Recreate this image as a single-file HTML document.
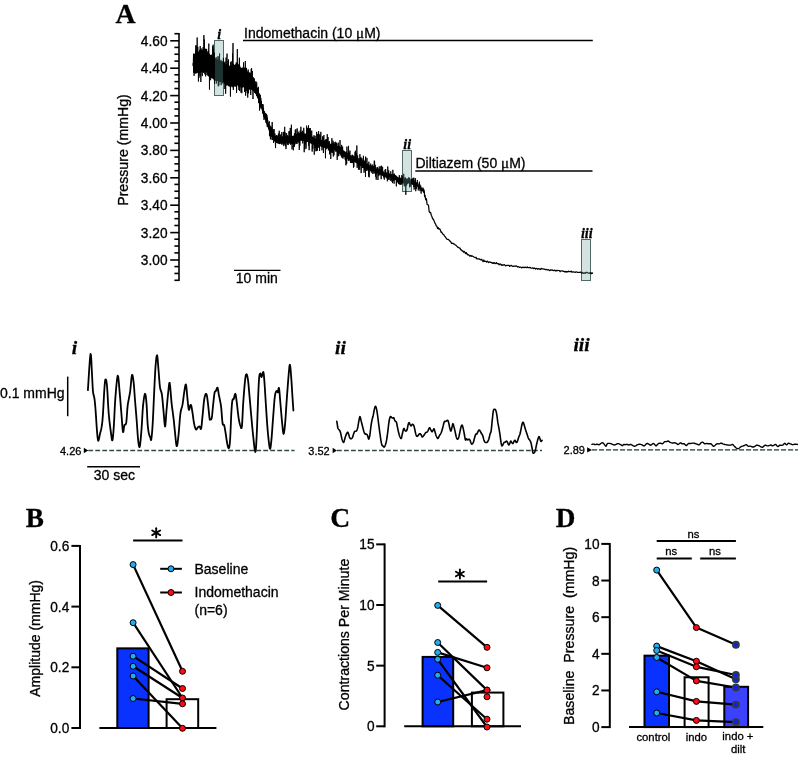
<!DOCTYPE html>
<html><head><meta charset="utf-8"><title>Figure</title>
<style>html,body{margin:0;padding:0;background:#fff;} body{width:798px;height:757px;overflow:hidden;font-family:"Liberation Sans",sans-serif;} svg{display:block;will-change:transform;} text{stroke:#000;stroke-width:0.3px;paint-order:stroke;} text.nb{stroke:none;}</style>
</head><body>
<svg width="798" height="757" viewBox="0 0 798 757">
<rect width="798" height="757" fill="#fff"/>
<text x="115.6" y="22.8" font-family="Liberation Serif" font-size="27.8" font-weight="bold" font-style="normal" text-anchor="start" fill="#000">A</text>
<line x1="179.00" y1="33.00" x2="179.00" y2="281.10" stroke="#000" stroke-width="1.6"/>
<line x1="170.20" y1="40.80" x2="179.00" y2="40.80" stroke="#000" stroke-width="1.6"/>
<text transform="translate(167.5 45.699999999999996) scale(1 1.1)" font-family="Liberation Sans" font-size="13.7" text-anchor="end" fill="#000">4.60</text>
<line x1="170.20" y1="68.20" x2="179.00" y2="68.20" stroke="#000" stroke-width="1.6"/>
<text transform="translate(167.5 73.1) scale(1 1.1)" font-family="Liberation Sans" font-size="13.7" text-anchor="end" fill="#000">4.40</text>
<line x1="170.20" y1="95.60" x2="179.00" y2="95.60" stroke="#000" stroke-width="1.6"/>
<text transform="translate(167.5 100.5) scale(1 1.1)" font-family="Liberation Sans" font-size="13.7" text-anchor="end" fill="#000">4.20</text>
<line x1="170.20" y1="123.00" x2="179.00" y2="123.00" stroke="#000" stroke-width="1.6"/>
<text transform="translate(167.5 127.89999999999999) scale(1 1.1)" font-family="Liberation Sans" font-size="13.7" text-anchor="end" fill="#000">4.00</text>
<line x1="170.20" y1="150.40" x2="179.00" y2="150.40" stroke="#000" stroke-width="1.6"/>
<text transform="translate(167.5 155.29999999999998) scale(1 1.1)" font-family="Liberation Sans" font-size="13.7" text-anchor="end" fill="#000">3.80</text>
<line x1="170.20" y1="177.80" x2="179.00" y2="177.80" stroke="#000" stroke-width="1.6"/>
<text transform="translate(167.5 182.70000000000002) scale(1 1.1)" font-family="Liberation Sans" font-size="13.7" text-anchor="end" fill="#000">3.60</text>
<line x1="170.20" y1="205.20" x2="179.00" y2="205.20" stroke="#000" stroke-width="1.6"/>
<text transform="translate(167.5 210.1) scale(1 1.1)" font-family="Liberation Sans" font-size="13.7" text-anchor="end" fill="#000">3.40</text>
<line x1="170.20" y1="232.60" x2="179.00" y2="232.60" stroke="#000" stroke-width="1.6"/>
<text transform="translate(167.5 237.49999999999997) scale(1 1.1)" font-family="Liberation Sans" font-size="13.7" text-anchor="end" fill="#000">3.20</text>
<line x1="170.20" y1="260.00" x2="179.00" y2="260.00" stroke="#000" stroke-width="1.6"/>
<text transform="translate(167.5 264.9) scale(1 1.1)" font-family="Liberation Sans" font-size="13.7" text-anchor="end" fill="#000">3.00</text>
<line x1="174.40" y1="33.70" x2="179.00" y2="33.70" stroke="#000" stroke-width="1.6"/>
<line x1="174.40" y1="47.40" x2="179.00" y2="47.40" stroke="#000" stroke-width="1.6"/>
<line x1="174.40" y1="54.25" x2="179.00" y2="54.25" stroke="#000" stroke-width="1.6"/>
<line x1="174.40" y1="61.10" x2="179.00" y2="61.10" stroke="#000" stroke-width="1.6"/>
<line x1="174.40" y1="74.80" x2="179.00" y2="74.80" stroke="#000" stroke-width="1.6"/>
<line x1="174.40" y1="81.65" x2="179.00" y2="81.65" stroke="#000" stroke-width="1.6"/>
<line x1="174.40" y1="88.50" x2="179.00" y2="88.50" stroke="#000" stroke-width="1.6"/>
<line x1="174.40" y1="102.20" x2="179.00" y2="102.20" stroke="#000" stroke-width="1.6"/>
<line x1="174.40" y1="109.05" x2="179.00" y2="109.05" stroke="#000" stroke-width="1.6"/>
<line x1="174.40" y1="115.90" x2="179.00" y2="115.90" stroke="#000" stroke-width="1.6"/>
<line x1="174.40" y1="129.60" x2="179.00" y2="129.60" stroke="#000" stroke-width="1.6"/>
<line x1="174.40" y1="136.45" x2="179.00" y2="136.45" stroke="#000" stroke-width="1.6"/>
<line x1="174.40" y1="143.30" x2="179.00" y2="143.30" stroke="#000" stroke-width="1.6"/>
<line x1="174.40" y1="157.00" x2="179.00" y2="157.00" stroke="#000" stroke-width="1.6"/>
<line x1="174.40" y1="163.85" x2="179.00" y2="163.85" stroke="#000" stroke-width="1.6"/>
<line x1="174.40" y1="170.70" x2="179.00" y2="170.70" stroke="#000" stroke-width="1.6"/>
<line x1="174.40" y1="184.40" x2="179.00" y2="184.40" stroke="#000" stroke-width="1.6"/>
<line x1="174.40" y1="191.25" x2="179.00" y2="191.25" stroke="#000" stroke-width="1.6"/>
<line x1="174.40" y1="198.10" x2="179.00" y2="198.10" stroke="#000" stroke-width="1.6"/>
<line x1="174.40" y1="211.80" x2="179.00" y2="211.80" stroke="#000" stroke-width="1.6"/>
<line x1="174.40" y1="218.65" x2="179.00" y2="218.65" stroke="#000" stroke-width="1.6"/>
<line x1="174.40" y1="225.50" x2="179.00" y2="225.50" stroke="#000" stroke-width="1.6"/>
<line x1="174.40" y1="239.20" x2="179.00" y2="239.20" stroke="#000" stroke-width="1.6"/>
<line x1="174.40" y1="246.05" x2="179.00" y2="246.05" stroke="#000" stroke-width="1.6"/>
<line x1="174.40" y1="252.90" x2="179.00" y2="252.90" stroke="#000" stroke-width="1.6"/>
<line x1="174.40" y1="266.60" x2="179.00" y2="266.60" stroke="#000" stroke-width="1.6"/>
<line x1="174.40" y1="273.45" x2="179.00" y2="273.45" stroke="#000" stroke-width="1.6"/>
<line x1="174.40" y1="280.30" x2="179.00" y2="280.30" stroke="#000" stroke-width="1.6"/>
<text x="128.0" y="150.0" font-family="Liberation Sans" font-size="14.15" font-weight="normal" font-style="normal" text-anchor="middle" fill="#000" transform="rotate(-90 128.0 150.0)">Pressure (mmHg)</text>
<line x1="243.00" y1="40.50" x2="592.80" y2="40.50" stroke="#000" stroke-width="1.3"/>
<text x="244.0" y="37.9" font-family="Liberation Sans" font-size="14" font-weight="normal" font-style="normal" text-anchor="start" fill="#000">Indomethacin (10 <tspan font-family="Liberation Serif" font-size="15">μ</tspan>M)</text>
<line x1="415.30" y1="171.00" x2="592.50" y2="171.00" stroke="#000" stroke-width="1.3"/>
<text x="415.5" y="168.0" font-family="Liberation Sans" font-size="14" font-weight="normal" font-style="normal" text-anchor="start" fill="#000">Diltiazem (50 <tspan font-family="Liberation Serif" font-size="15">μ</tspan>M)</text>
<line x1="234.00" y1="270.40" x2="280.50" y2="270.40" stroke="#000" stroke-width="1.4"/>
<text x="235.8" y="283.3" font-family="Liberation Sans" font-size="14" font-weight="normal" font-style="normal" text-anchor="start" fill="#000">10 min</text>
<rect x="214.5" y="40.5" width="9.00" height="55.00" fill="#cddcd8" stroke="#4f6a65" stroke-width="1"/>
<text x="219.3" y="39.1" font-family="Liberation Serif" font-size="14" font-weight="bold" font-style="italic" text-anchor="middle" fill="#000">i</text>
<rect x="402.5" y="150.5" width="9.00" height="41.00" fill="#cddcd8" stroke="#4f6a65" stroke-width="1"/>
<text x="407.2" y="149.1" font-family="Liberation Serif" font-size="14" font-weight="bold" font-style="italic" text-anchor="middle" fill="#000">ii</text>
<rect x="581.5" y="239.5" width="9.00" height="41.00" fill="#cddcd8" stroke="#4f6a65" stroke-width="1"/>
<text x="586.8" y="238.1" font-family="Liberation Serif" font-size="14" font-weight="bold" font-style="italic" text-anchor="middle" fill="#000">iii</text>
<path d="M193.0,53.6 L194.0,53.5 L194.9,53.7 L195.9,53.6 L196.8,52.6 L197.8,51.7 L198.8,51.5 L199.7,51.6 L200.7,50.1 L201.6,50.1 L202.6,49.4 L203.6,49.5 L204.5,49.1 L205.5,48.6 L206.4,49.3 L207.4,51.2 L208.4,53.7 L209.3,53.2 L210.3,54.9 L211.2,54.9 L212.2,55.6 L213.2,56.3 L214.1,57.8 L215.1,58.0 L216.0,58.7 L217.0,59.6 L218.0,59.5 L218.9,60.9 L219.9,60.7 L220.8,61.2 L221.8,61.3 L222.8,61.3 L223.7,61.0 L224.7,63.1 L225.6,64.5 L226.6,64.4 L227.6,64.4 L228.5,65.3 L229.5,65.8 L230.4,65.9 L231.4,65.4 L232.4,65.2 L233.3,66.1 L234.3,65.1 L235.2,64.9 L236.2,65.7 L237.2,64.7 L238.1,64.5 L239.1,65.0 L240.0,65.6 L241.0,67.9 L242.0,67.5 L242.9,67.4 L243.9,67.3 L244.8,68.0 L245.8,68.0 L246.8,70.2 L247.7,71.7 L248.7,72.0 L249.6,72.5 L250.6,72.6 L251.6,74.9 L252.5,76.5 L253.5,78.5 L254.4,79.9 L255.4,82.9 L256.4,85.2 L257.3,87.7 L258.3,90.8 L259.2,93.9 L260.2,97.3 L261.2,100.8 L262.1,103.9 L263.1,107.1 L264.0,110.5 L265.0,112.7 L266.0,115.8 L266.9,118.8 L267.9,121.8 L268.8,124.5 L269.8,126.5 L270.8,129.1 L271.7,130.3 L272.7,132.2 L273.6,133.7 L274.6,135.4 L275.6,136.1 L276.5,136.5 L277.5,136.8 L278.4,136.9 L279.4,137.4 L280.4,136.9 L281.3,137.2 L282.3,136.6 L283.2,136.7 L284.2,136.4 L285.2,136.2 L286.1,136.1 L287.1,135.8 L288.0,136.0 L289.0,136.3 L290.0,136.5 L290.9,136.2 L291.9,136.1 L292.8,135.7 L293.8,135.6 L294.8,134.9 L295.7,134.3 L296.7,133.7 L297.6,133.9 L298.6,133.3 L299.6,132.8 L300.5,132.8 L301.5,132.7 L302.4,133.0 L303.4,132.6 L304.4,133.5 L305.3,133.6 L306.3,133.9 L307.2,133.7 L308.2,134.6 L309.2,134.7 L310.1,135.5 L311.1,136.2 L312.0,136.5 L313.0,137.0 L314.0,137.7 L314.9,138.3 L315.9,138.9 L316.8,139.3 L317.8,139.1 L318.8,139.2 L319.7,138.8 L320.7,139.2 L321.6,139.7 L322.6,140.6 L323.6,140.7 L324.5,140.9 L325.5,141.5 L326.4,141.7 L327.4,141.7 L328.4,143.0 L329.3,143.7 L330.3,144.0 L331.2,143.5 L332.2,143.4 L333.2,143.0 L334.1,143.4 L335.1,144.0 L336.0,144.4 L337.0,145.8 L338.0,146.0 L338.9,146.2 L339.9,146.6 L340.8,147.6 L341.8,148.7 L342.8,150.0 L343.7,150.7 L344.7,151.5 L345.6,152.2 L346.6,152.7 L347.6,152.8 L348.5,153.2 L349.5,154.3 L350.4,155.2 L351.4,155.6 L352.4,155.9 L353.3,156.0 L354.3,156.6 L355.2,157.3 L356.2,157.5 L357.2,158.4 L358.1,159.3 L359.1,159.7 L360.0,159.8 L361.0,160.3 L362.0,160.8 L362.9,162.2 L363.9,162.4 L364.8,163.1 L365.8,163.9 L366.8,164.0 L367.7,164.8 L368.7,165.0 L369.6,165.3 L370.6,165.9 L371.6,166.1 L372.5,166.1 L373.5,166.6 L374.4,166.6 L375.4,167.6 L376.4,168.4 L377.3,168.5 L378.3,169.4 L379.2,170.1 L380.2,170.4 L381.2,171.3 L382.1,171.5 L383.1,171.9 L384.0,172.6 L385.0,172.4 L386.0,172.8 L386.9,173.5 L387.9,173.4 L388.8,173.6 L389.8,173.9 L390.8,174.3 L391.7,175.0 L392.7,175.4 L393.6,175.5 L394.6,175.8 L395.6,176.0 L396.5,176.2 L397.5,176.8 L398.4,177.8 L399.4,178.1 L400.4,178.1 L401.3,178.3 L402.3,178.5 L403.2,178.9 L404.2,179.7 L405.2,180.2 L406.1,180.1 L407.1,180.3 L408.0,180.2 L409.0,180.5 L410.0,180.8 L410.9,181.0 L411.9,181.1 L412.8,181.5 L413.8,181.6 L414.8,182.1 L415.7,183.0 L416.7,183.6 L417.6,184.0 L418.6,184.9 L419.6,185.6 L420.5,186.6 L421.5,188.0 L422.4,189.1 L423.4,190.1 L424.4,192.5 L424.4,194.2 L423.4,192.0 L422.4,191.2 L421.5,190.3 L420.5,189.1 L419.6,188.3 L418.6,187.7 L417.6,186.8 L416.7,186.4 L415.7,185.8 L414.8,185.0 L413.8,184.5 L412.8,184.4 L411.9,184.1 L410.9,184.0 L410.0,183.9 L409.0,183.5 L408.0,183.4 L407.1,183.5 L406.1,183.3 L405.2,183.5 L404.2,183.0 L403.2,182.2 L402.3,181.9 L401.3,181.7 L400.4,181.6 L399.4,181.6 L398.4,181.3 L397.5,180.4 L396.5,179.8 L395.6,179.6 L394.6,179.5 L393.6,179.3 L392.7,179.2 L391.7,178.8 L390.8,178.2 L389.8,177.8 L388.8,177.6 L387.9,177.4 L386.9,177.6 L386.0,176.9 L385.0,176.6 L384.0,176.8 L383.1,176.1 L382.1,175.8 L381.2,175.6 L380.2,174.8 L379.2,174.6 L378.3,173.9 L377.3,173.0 L376.4,173.0 L375.4,172.2 L374.4,171.3 L373.5,171.3 L372.5,170.8 L371.6,170.8 L370.6,170.7 L369.6,170.1 L368.7,169.9 L367.7,169.7 L366.8,169.0 L365.8,168.9 L364.8,168.2 L363.9,167.5 L362.9,167.3 L362.0,166.0 L361.0,165.5 L360.0,165.0 L359.1,164.9 L358.1,164.7 L357.2,163.7 L356.2,162.8 L355.2,162.7 L354.3,162.1 L353.3,161.5 L352.4,161.4 L351.4,161.1 L350.4,160.8 L349.5,159.9 L348.5,158.9 L347.6,158.6 L346.6,158.5 L345.6,158.0 L344.7,157.3 L343.7,156.5 L342.8,155.9 L341.8,154.6 L340.8,153.6 L339.9,152.7 L338.9,152.3 L338.0,152.1 L337.0,151.9 L336.0,150.7 L335.1,150.3 L334.1,149.8 L333.2,149.4 L332.2,149.8 L331.2,150.0 L330.3,150.5 L329.3,150.3 L328.4,149.6 L327.4,148.3 L326.4,148.4 L325.5,148.3 L324.5,147.8 L323.6,147.6 L322.6,147.6 L321.6,146.7 L320.7,146.2 L319.7,145.9 L318.8,146.3 L317.8,146.3 L316.8,146.6 L315.9,146.2 L314.9,145.7 L314.0,145.1 L313.0,144.5 L312.0,144.0 L311.1,143.8 L310.1,143.2 L309.2,142.5 L308.2,142.4 L307.2,141.5 L306.3,141.7 L305.3,141.5 L304.4,141.3 L303.4,140.4 L302.4,140.8 L301.5,140.6 L300.5,140.7 L299.6,140.6 L298.6,141.0 L297.6,141.6 L296.7,141.3 L295.7,141.9 L294.8,142.4 L293.8,143.0 L292.8,143.1 L291.9,143.4 L290.9,143.4 L290.0,143.7 L289.0,143.4 L288.0,143.1 L287.1,142.9 L286.1,143.1 L285.2,143.2 L284.2,143.3 L283.2,143.6 L282.3,143.5 L281.3,144.0 L280.4,143.8 L279.4,144.2 L278.4,143.7 L277.5,143.5 L276.5,143.1 L275.6,142.5 L274.6,141.8 L273.6,140.1 L272.7,138.5 L271.7,136.6 L270.8,135.2 L269.8,132.6 L268.8,130.6 L267.9,127.9 L266.9,125.0 L266.0,122.1 L265.0,119.3 L264.0,117.3 L263.1,114.2 L262.1,111.2 L261.2,108.4 L260.2,105.2 L259.2,102.2 L258.3,99.5 L257.3,97.1 L256.4,95.3 L255.4,93.7 L254.4,91.7 L253.5,91.3 L252.5,90.5 L251.6,90.0 L250.6,88.8 L249.6,89.7 L248.7,89.6 L247.7,89.9 L246.8,88.8 L245.8,87.1 L244.8,87.6 L243.9,87.3 L242.9,87.5 L242.0,87.8 L241.0,88.2 L240.0,86.1 L239.1,85.6 L238.1,85.2 L237.2,85.4 L236.2,86.6 L235.2,85.8 L234.3,86.1 L233.3,87.1 L232.4,86.2 L231.4,86.4 L230.4,86.9 L229.5,86.8 L228.5,86.3 L227.6,85.4 L226.6,85.4 L225.6,85.5 L224.7,84.1 L223.7,82.0 L222.8,82.3 L221.8,82.3 L220.8,82.2 L219.9,81.7 L218.9,81.9 L218.0,80.8 L217.0,81.2 L216.0,80.5 L215.1,80.1 L214.1,80.2 L213.2,78.9 L212.2,78.6 L211.2,77.9 L210.3,77.9 L209.3,76.2 L208.4,76.7 L207.4,74.2 L206.4,72.3 L205.5,71.5 L204.5,71.8 L203.6,72.1 L202.6,71.8 L201.6,72.4 L200.7,72.2 L199.7,73.4 L198.8,72.9 L197.8,72.8 L196.8,73.3 L195.9,73.8 L194.9,73.5 L194.0,72.9 L193.0,72.6Z" fill="#000"/>
<path d="M193.00,63.1 L193.16,66.1 L193.32,61.0 L193.48,55.4 L193.64,59.3 L193.80,54.3 L193.96,63.8 L194.12,75.8 L194.28,58.6 L194.44,57.5 L194.60,67.9 L194.76,66.9 L194.92,64.6 L195.08,55.0 L195.24,63.3 L195.40,70.3 L195.56,50.8 L195.72,59.3 L195.88,45.4 L196.04,51.5 L196.20,45.6 L196.36,61.2 L196.52,50.8 L196.68,66.1 L196.84,64.5 L197.00,60.9 L197.16,37.5 L197.32,57.4 L197.48,61.9 L197.64,63.5 L197.80,46.9 L197.96,57.3 L198.12,52.1 L198.28,53.8 L198.44,81.5 L198.60,54.2 L198.76,61.9 L198.92,77.9 L199.08,55.7 L199.24,60.6 L199.40,63.2 L199.56,62.8 L199.72,49.8 L199.88,63.0 L200.04,76.2 L200.20,46.1 L200.36,70.7 L200.52,62.5 L200.68,54.4 L200.84,82.0 L201.00,69.8 L201.16,48.5 L201.32,62.0 L201.48,67.6 L201.64,59.2 L201.80,68.5 L201.96,60.3 L202.12,68.0 L202.28,76.1 L202.44,53.1 L202.60,62.8 L202.76,55.7 L202.92,61.8 L203.08,47.2 L203.24,54.1 L203.40,58.2 L203.56,70.5 L203.72,73.0 L203.88,35.1 L204.04,52.0 L204.20,67.9 L204.36,39.5 L204.52,55.4 L204.68,58.9 L204.84,74.3 L205.00,67.9 L205.16,56.6 L205.32,56.1 L205.48,57.3 L205.64,76.4 L205.80,55.5 L205.96,56.7 L206.12,64.3 L206.28,59.0 L206.44,58.6 L206.60,48.9 L206.76,61.5 L206.92,56.8 L207.08,75.0 L207.24,69.5 L207.40,62.5 L207.56,70.8 L207.72,60.3 L207.88,75.6 L208.04,64.7 L208.20,71.4 L208.36,51.1 L208.52,69.0 L208.68,47.3 L208.84,43.6 L209.00,62.1 L209.16,55.3 L209.32,66.5 L209.48,89.6 L209.64,56.6 L209.80,58.8 L209.96,67.9 L210.12,71.7 L210.28,64.4 L210.44,64.5 L210.60,80.2 L210.76,72.7 L210.92,55.6 L211.08,65.4 L211.24,66.8 L211.40,54.7 L211.56,69.2 L211.72,56.7 L211.88,77.3 L212.04,69.5 L212.20,68.1 L212.36,60.5 L212.52,65.8 L212.68,46.3 L212.84,55.6 L213.00,71.7 L213.16,44.7 L213.32,76.9 L213.48,49.2 L213.64,76.6 L213.80,59.6 L213.96,76.6 L214.12,70.4 L214.28,52.5 L214.44,81.7 L214.60,83.8 L214.76,67.8 L214.92,65.8 L215.08,67.4 L215.24,58.8 L215.40,80.7 L215.56,63.5 L215.72,69.1 L215.88,61.1 L216.04,63.1 L216.20,57.1 L216.36,83.5 L216.52,68.9 L216.68,80.4 L216.84,70.5 L217.00,63.3 L217.16,67.2 L217.32,64.4 L217.48,70.3 L217.64,63.4 L217.80,67.3 L217.96,56.2 L218.12,62.0 L218.28,86.3 L218.44,63.2 L218.60,59.7 L218.76,74.4 L218.92,85.4 L219.08,56.6 L219.24,68.9 L219.40,64.6 L219.56,53.5 L219.72,78.2 L219.88,71.0 L220.04,72.0 L220.20,63.5 L220.36,75.2 L220.52,65.5 L220.68,70.0 L220.84,60.6 L221.00,59.9 L221.16,85.2 L221.32,67.0 L221.48,74.8 L221.64,71.5 L221.80,67.4 L221.96,66.6 L222.12,78.1 L222.28,68.5 L222.44,69.7 L222.60,71.6 L222.76,83.5 L222.92,78.6 L223.08,76.2 L223.24,66.5 L223.40,57.9 L223.56,81.0 L223.72,81.2 L223.88,71.1 L224.04,78.0 L224.20,80.8 L224.36,82.0 L224.52,82.9 L224.68,69.0 L224.84,89.0 L225.00,61.7 L225.16,83.2 L225.32,79.5 L225.48,83.7 L225.64,93.7 L225.80,89.3 L225.96,62.9 L226.12,57.6 L226.28,82.2 L226.44,64.1 L226.60,74.7 L226.76,83.1 L226.92,58.3 L227.08,53.6 L227.24,77.2 L227.40,74.8 L227.56,72.5 L227.72,75.6 L227.88,66.9 L228.04,61.0 L228.20,74.3 L228.36,66.0 L228.52,59.4 L228.68,81.2 L228.84,75.6 L229.00,80.5 L229.16,66.8 L229.32,69.8 L229.48,66.4 L229.64,67.4 L229.80,78.4 L229.96,68.8 L230.12,80.1 L230.28,79.7 L230.44,96.6 L230.60,62.3 L230.76,85.2 L230.92,75.3 L231.08,75.9 L231.24,61.4 L231.40,71.3 L231.56,83.7 L231.72,74.8 L231.88,76.6 L232.04,72.8 L232.20,87.2 L232.36,75.4 L232.52,53.5 L232.68,68.3 L232.84,55.4 L233.00,43.1 L233.16,70.9 L233.32,89.9 L233.48,76.4 L233.64,63.9 L233.80,66.3 L233.96,86.8 L234.12,77.0 L234.28,76.1 L234.44,74.8 L234.60,76.0 L234.76,83.3 L234.92,80.8 L235.08,77.2 L235.24,65.0 L235.40,80.3 L235.56,68.9 L235.72,86.6 L235.88,63.8 L236.04,75.2 L236.20,76.0 L236.36,62.4 L236.52,93.0 L236.68,90.4 L236.84,71.0 L237.00,83.2 L237.16,78.8 L237.32,49.1 L237.48,77.6 L237.64,74.1 L237.80,75.3 L237.96,63.8 L238.12,72.2 L238.28,72.8 L238.44,86.5 L238.60,78.0 L238.76,74.4 L238.92,90.0 L239.08,69.9 L239.24,71.2 L239.40,57.7 L239.56,91.0 L239.72,85.5 L239.88,85.1 L240.04,82.3 L240.20,77.4 L240.36,78.6 L240.52,74.5 L240.68,75.6 L240.84,78.4 L241.00,92.6 L241.16,83.0 L241.32,77.6 L241.48,72.5 L241.64,72.2 L241.80,93.2 L241.96,82.5 L242.12,78.9 L242.28,75.0 L242.44,68.1 L242.60,77.5 L242.76,86.4 L242.92,73.7 L243.08,75.4 L243.24,75.3 L243.40,78.5 L243.56,62.4 L243.72,75.1 L243.88,69.1 L244.04,86.2 L244.20,70.5 L244.36,83.4 L244.52,92.0 L244.68,74.9 L244.84,67.7 L245.00,80.0 L245.16,77.9 L245.32,61.0 L245.48,81.8 L245.64,95.7 L245.80,75.2 L245.96,76.4 L246.12,68.9 L246.28,81.7 L246.44,67.9 L246.60,69.5 L246.76,90.8 L246.92,71.6 L247.08,89.1 L247.24,93.0 L247.40,82.5 L247.56,85.8 L247.72,97.6 L247.88,79.4 L248.04,75.9 L248.20,69.5 L248.36,81.6 L248.52,93.3 L248.68,88.9 L248.84,73.1 L249.00,73.7 L249.16,76.5 L249.32,83.0 L249.48,78.9 L249.64,82.9 L249.80,83.2 L249.96,78.2 L250.12,80.3 L250.28,82.0 L250.44,79.8 L250.60,84.6 L250.76,95.0 L250.92,85.5 L251.08,81.9 L251.24,68.9 L251.40,85.2 L251.56,68.1 L251.72,72.3 L251.88,88.4 L252.04,87.3 L252.20,82.0 L252.36,71.0 L252.52,81.0 L252.68,79.4 L252.84,88.5 L253.00,99.0 L253.16,85.7 L253.32,79.5 L253.48,77.4 L253.64,84.8 L253.80,84.2 L253.96,78.2 L254.12,86.0 L254.28,78.8 L254.44,92.5 L254.60,92.2 L254.76,92.7 L254.92,83.9 L255.08,90.0 L255.24,87.1 L255.40,86.1 L255.56,86.7 L255.72,81.8 L255.88,81.2 L256.04,93.7 L256.20,88.6 L256.36,91.4 L256.52,96.1 L256.68,82.4 L256.84,87.6 L257.00,92.9 L257.16,94.3 L257.32,90.5 L257.48,97.9 L257.64,94.2 L257.80,87.9 L257.96,89.8 L258.12,98.6 L258.28,97.3 L258.44,86.9 L258.60,102.5 L258.76,99.5 L258.92,103.2 L259.08,96.0 L259.24,96.7 L259.40,93.4 L259.56,110.6 L259.72,98.6 L259.88,107.1 L260.04,97.7 L260.20,102.0 L260.36,94.8 L260.52,100.8 L260.68,107.2 L260.84,98.0 L261.00,108.6 L261.16,106.0 L261.32,100.9 L261.48,103.6 L261.64,104.2 L261.80,106.3 L261.96,104.9 L262.12,104.1 L262.28,106.7 L262.44,104.4 L262.60,104.1 L262.76,109.4 L262.92,113.9 L263.08,104.4 L263.24,111.0 L263.40,109.0 L263.56,108.4 L263.72,116.5 L263.88,111.2 L264.04,119.9 L264.20,111.3 L264.36,116.3 L264.52,114.3 L264.68,112.4 L264.84,117.9 L265.00,115.4 L265.16,119.0 L265.32,117.0 L265.48,113.3 L265.64,117.7 L265.80,118.8 L265.96,122.7 L266.12,115.8 L266.28,119.8 L266.44,113.8 L266.60,123.3 L266.76,117.0 L266.92,114.9 L267.08,122.0 L267.24,126.8 L267.40,117.3 L267.56,119.6 L267.72,121.4 L267.88,120.5 L268.04,126.7 L268.20,122.5 L268.36,123.3 L268.52,128.9 L268.68,124.0 L268.84,129.2 L269.00,124.2 L269.16,123.4 L269.32,121.3 L269.48,136.2 L269.64,127.8 L269.80,130.5 L269.96,129.7 L270.12,131.0 L270.28,131.1 L270.44,139.3 L270.60,127.5 L270.76,125.7 L270.92,128.1 L271.08,127.0 L271.24,136.2 L271.40,136.5 L271.56,129.2 L271.72,127.6 L271.88,132.3 L272.04,139.9 L272.20,122.0 L272.36,136.9 L272.52,130.3 L272.68,139.9 L272.84,131.0 L273.00,134.6 L273.16,129.3 L273.32,131.9 L273.48,142.9 L273.64,140.6 L273.80,135.5 L273.96,133.6 L274.12,129.1 L274.28,136.2 L274.44,138.3 L274.60,138.2 L274.76,138.0 L274.92,133.5 L275.08,138.5 L275.24,138.7 L275.40,145.0 L275.56,148.1 L275.72,138.7 L275.88,135.7 L276.04,139.0 L276.20,136.4 L276.36,136.1 L276.52,139.5 L276.68,135.1 L276.84,143.0 L277.00,139.6 L277.16,141.1 L277.32,139.3 L277.48,136.6 L277.64,135.7 L277.80,139.2 L277.96,137.7 L278.12,141.4 L278.28,140.4 L278.44,133.6 L278.60,140.8 L278.76,134.0 L278.92,137.6 L279.08,139.6 L279.24,130.8 L279.40,141.2 L279.56,141.6 L279.72,139.9 L279.88,138.4 L280.04,138.6 L280.20,135.5 L280.36,139.0 L280.52,137.4 L280.68,140.9 L280.84,134.4 L281.00,141.8 L281.16,141.4 L281.32,139.9 L281.48,138.3 L281.64,143.5 L281.80,132.2 L281.96,144.8 L282.12,141.5 L282.28,141.5 L282.44,141.6 L282.60,136.6 L282.76,138.7 L282.92,143.2 L283.08,142.1 L283.24,141.2 L283.40,131.9 L283.56,142.5 L283.72,146.1 L283.88,145.2 L284.04,141.0 L284.20,131.8 L284.36,144.4 L284.52,138.9 L284.68,126.8 L284.84,141.9 L285.00,132.3 L285.16,133.0 L285.32,136.6 L285.48,146.3 L285.64,138.1 L285.80,141.5 L285.96,149.1 L286.12,147.9 L286.28,139.1 L286.44,138.7 L286.60,133.2 L286.76,136.1 L286.92,141.4 L287.08,141.4 L287.24,139.8 L287.40,144.5 L287.56,135.3 L287.72,139.4 L287.88,143.4 L288.04,142.7 L288.20,145.1 L288.36,141.8 L288.52,138.3 L288.68,141.7 L288.84,134.4 L289.00,131.2 L289.16,142.9 L289.32,139.6 L289.48,141.7 L289.64,131.0 L289.80,138.2 L289.96,136.9 L290.12,135.6 L290.28,127.9 L290.44,137.8 L290.60,144.8 L290.76,141.8 L290.92,136.5 L291.08,139.8 L291.24,143.7 L291.40,124.7 L291.56,138.1 L291.72,142.5 L291.88,143.4 L292.04,149.3 L292.20,145.9 L292.36,141.6 L292.52,141.3 L292.68,144.0 L292.84,136.5 L293.00,139.5 L293.16,144.7 L293.32,150.3 L293.48,138.5 L293.64,139.3 L293.80,140.4 L293.96,146.7 L294.12,139.0 L294.28,147.0 L294.44,133.3 L294.60,137.6 L294.76,137.5 L294.92,143.0 L295.08,144.4 L295.24,129.8 L295.40,132.8 L295.56,139.8 L295.72,134.4 L295.88,129.3 L296.04,143.6 L296.20,140.6 L296.36,140.6 L296.52,135.0 L296.68,143.3 L296.84,136.3 L297.00,144.0 L297.16,128.4 L297.32,132.8 L297.48,138.9 L297.64,133.7 L297.80,141.5 L297.96,138.7 L298.12,131.6 L298.28,137.3 L298.44,135.1 L298.60,142.5 L298.76,133.3 L298.92,134.6 L299.08,144.1 L299.24,150.0 L299.40,148.6 L299.56,137.1 L299.72,137.7 L299.88,145.6 L300.04,135.9 L300.20,130.5 L300.36,137.6 L300.52,139.4 L300.68,131.6 L300.84,126.8 L301.00,128.1 L301.16,140.5 L301.32,132.1 L301.48,135.8 L301.64,137.8 L301.80,140.3 L301.96,134.6 L302.12,139.7 L302.28,131.6 L302.44,134.8 L302.60,130.8 L302.76,143.4 L302.92,136.5 L303.08,132.5 L303.24,134.7 L303.40,135.2 L303.56,140.9 L303.72,127.8 L303.88,131.5 L304.04,135.3 L304.20,152.2 L304.36,143.0 L304.52,136.5 L304.68,141.5 L304.84,149.3 L305.00,136.2 L305.16,135.6 L305.32,144.7 L305.48,140.6 L305.64,141.5 L305.80,134.3 L305.96,148.8 L306.12,147.7 L306.28,141.2 L306.44,141.6 L306.60,125.7 L306.76,141.5 L306.92,136.5 L307.08,140.2 L307.24,141.7 L307.40,135.6 L307.56,127.9 L307.72,140.1 L307.88,133.6 L308.04,136.4 L308.20,135.0 L308.36,136.7 L308.52,125.3 L308.68,145.8 L308.84,140.1 L309.00,145.0 L309.16,150.2 L309.32,139.1 L309.48,128.4 L309.64,133.9 L309.80,132.4 L309.96,136.8 L310.12,139.8 L310.28,128.0 L310.44,141.8 L310.60,131.0 L310.76,141.7 L310.92,139.5 L311.08,138.2 L311.24,139.8 L311.40,137.2 L311.56,136.7 L311.72,130.6 L311.88,139.9 L312.04,150.9 L312.20,151.6 L312.36,148.0 L312.52,144.5 L312.68,136.8 L312.84,148.8 L313.00,140.4 L313.16,140.5 L313.32,138.9 L313.48,141.2 L313.64,138.4 L313.80,140.6 L313.96,135.3 L314.12,139.5 L314.28,154.7 L314.44,141.4 L314.60,140.5 L314.76,144.7 L314.92,146.0 L315.08,135.8 L315.24,141.1 L315.40,147.9 L315.56,144.1 L315.72,143.4 L315.88,151.3 L316.04,139.2 L316.20,143.3 L316.36,139.8 L316.52,151.0 L316.68,131.9 L316.84,139.2 L317.00,140.2 L317.16,146.8 L317.32,146.3 L317.48,150.7 L317.64,134.1 L317.80,146.8 L317.96,141.3 L318.12,138.8 L318.28,147.8 L318.44,137.5 L318.60,131.2 L318.76,140.7 L318.92,134.5 L319.08,139.3 L319.24,144.8 L319.40,144.3 L319.56,151.0 L319.72,141.3 L319.88,134.3 L320.04,138.2 L320.20,137.5 L320.36,136.1 L320.52,145.1 L320.68,139.2 L320.84,131.9 L321.00,146.4 L321.16,142.4 L321.32,144.8 L321.48,143.8 L321.64,146.6 L321.80,143.8 L321.96,150.3 L322.12,146.0 L322.28,145.5 L322.44,145.8 L322.60,136.3 L322.76,143.2 L322.92,142.8 L323.08,145.5 L323.24,137.1 L323.40,153.0 L323.56,144.7 L323.72,137.8 L323.88,135.1 L324.04,141.9 L324.20,143.9 L324.36,140.7 L324.52,144.8 L324.68,141.1 L324.84,147.4 L325.00,140.6 L325.16,144.4 L325.32,149.7 L325.48,158.3 L325.64,139.6 L325.80,142.6 L325.96,140.8 L326.12,149.3 L326.28,139.0 L326.44,142.6 L326.60,145.1 L326.76,140.4 L326.92,140.5 L327.08,142.8 L327.24,134.2 L327.40,137.6 L327.56,143.0 L327.72,146.2 L327.88,144.8 L328.04,137.0 L328.20,143.9 L328.36,150.4 L328.52,149.3 L328.68,146.2 L328.84,141.8 L329.00,149.6 L329.16,143.9 L329.32,141.1 L329.48,142.7 L329.64,154.4 L329.80,148.2 L329.96,153.0 L330.12,144.7 L330.28,151.9 L330.44,143.9 L330.60,146.0 L330.76,159.0 L330.92,150.3 L331.08,144.1 L331.24,146.3 L331.40,148.1 L331.56,152.5 L331.72,144.2 L331.88,138.2 L332.04,145.6 L332.20,146.7 L332.36,147.0 L332.52,152.9 L332.68,147.6 L332.84,150.4 L333.00,140.7 L333.16,150.5 L333.32,156.5 L333.48,150.0 L333.64,147.3 L333.80,147.2 L333.96,155.2 L334.12,142.1 L334.28,146.0 L334.44,149.0 L334.60,150.3 L334.76,144.8 L334.92,148.7 L335.08,145.8 L335.24,147.8 L335.40,146.8 L335.56,141.8 L335.72,147.3 L335.88,151.8 L336.04,142.9 L336.20,146.5 L336.36,150.8 L336.52,142.8 L336.68,149.3 L336.84,143.7 L337.00,154.3 L337.16,159.9 L337.32,158.6 L337.48,148.0 L337.64,152.6 L337.80,149.6 L337.96,149.5 L338.12,156.3 L338.28,142.6 L338.44,154.2 L338.60,149.0 L338.76,155.9 L338.92,150.2 L339.08,146.1 L339.24,150.6 L339.40,153.0 L339.56,149.6 L339.72,153.7 L339.88,147.2 L340.04,140.1 L340.20,154.3 L340.36,153.6 L340.52,151.3 L340.68,150.9 L340.84,155.5 L341.00,148.8 L341.16,147.7 L341.32,150.2 L341.48,156.9 L341.64,144.9 L341.80,157.2 L341.96,148.9 L342.12,147.0 L342.28,158.1 L342.44,151.9 L342.60,146.6 L342.76,151.3 L342.92,157.4 L343.08,158.5 L343.24,151.2 L343.40,155.0 L343.56,156.7 L343.72,150.6 L343.88,155.3 L344.04,153.7 L344.20,151.5 L344.36,151.8 L344.52,154.6 L344.68,154.5 L344.84,152.0 L345.00,152.6 L345.16,159.6 L345.32,155.8 L345.48,159.0 L345.64,160.5 L345.80,157.7 L345.96,165.4 L346.12,151.5 L346.28,158.8 L346.44,153.9 L346.60,164.0 L346.76,163.2 L346.92,146.6 L347.08,150.9 L347.24,158.3 L347.40,159.1 L347.56,159.0 L347.72,155.6 L347.88,158.1 L348.04,159.0 L348.20,155.6 L348.36,160.6 L348.52,145.9 L348.68,159.2 L348.84,151.8 L349.00,160.9 L349.16,155.9 L349.32,152.9 L349.48,158.8 L349.64,153.0 L349.80,153.3 L349.96,150.6 L350.12,157.6 L350.28,160.0 L350.44,162.6 L350.60,157.5 L350.76,162.8 L350.92,158.3 L351.08,157.9 L351.24,160.7 L351.40,163.0 L351.56,157.0 L351.72,157.4 L351.88,158.1 L352.04,159.1 L352.20,154.7 L352.36,163.1 L352.52,156.8 L352.68,160.7 L352.84,155.0 L353.00,160.2 L353.16,160.3 L353.32,156.9 L353.48,167.7 L353.64,160.6 L353.80,167.0 L353.96,163.6 L354.12,156.4 L354.28,157.7 L354.44,161.2 L354.60,159.6 L354.76,159.9 L354.92,158.5 L355.08,152.1 L355.24,159.1 L355.40,150.7 L355.56,161.8 L355.72,157.2 L355.88,157.2 L356.04,159.2 L356.20,161.3 L356.36,154.4 L356.52,153.3 L356.68,156.4 L356.84,145.5 L357.00,156.9 L357.16,167.8 L357.32,156.8 L357.48,164.1 L357.64,155.5 L357.80,162.8 L357.96,160.4 L358.12,161.5 L358.28,164.5 L358.44,169.6 L358.60,163.0 L358.76,162.6 L358.92,158.1 L359.08,164.7 L359.24,161.5 L359.40,166.0 L359.56,162.4 L359.72,169.8 L359.88,154.1 L360.04,161.2 L360.20,166.1 L360.36,160.9 L360.52,159.0 L360.68,161.3 L360.84,157.0 L361.00,163.4 L361.16,173.1 L361.32,167.7 L361.48,158.3 L361.64,159.5 L361.80,161.6 L361.96,167.5 L362.12,160.2 L362.28,161.1 L362.44,168.0 L362.60,168.1 L362.76,163.0 L362.92,160.2 L363.08,158.3 L363.24,161.9 L363.40,155.8 L363.56,167.9 L363.72,162.5 L363.88,166.9 L364.04,172.7 L364.20,170.1 L364.36,160.8 L364.52,169.0 L364.68,170.2 L364.84,162.6 L365.00,161.8 L365.16,165.4 L365.32,159.7 L365.48,176.9 L365.64,156.6 L365.80,162.0 L365.96,165.2 L366.12,165.2 L366.28,167.0 L366.44,167.4 L366.60,165.6 L366.76,171.0 L366.92,157.9 L367.08,166.4 L367.24,163.8 L367.40,167.5 L367.56,168.0 L367.72,163.6 L367.88,164.5 L368.04,170.4 L368.20,168.6 L368.36,164.7 L368.52,175.5 L368.68,176.6 L368.84,161.7 L369.00,168.8 L369.16,177.3 L369.32,170.8 L369.48,168.7 L369.64,166.9 L369.80,165.7 L369.96,167.1 L370.12,166.0 L370.28,171.2 L370.44,166.7 L370.60,166.6 L370.76,163.6 L370.92,168.4 L371.08,165.1 L371.24,167.9 L371.40,172.6 L371.56,169.9 L371.72,170.5 L371.88,169.8 L372.04,168.7 L372.20,168.1 L372.36,167.4 L372.52,171.4 L372.68,164.6 L372.84,173.9 L373.00,169.0 L373.16,166.2 L373.32,167.1 L373.48,166.4 L373.64,169.7 L373.80,166.5 L373.96,173.4 L374.12,166.1 L374.28,160.6 L374.44,166.2 L374.60,161.5 L374.76,169.2 L374.92,173.4 L375.08,172.0 L375.24,164.8 L375.40,167.0 L375.56,176.6 L375.72,171.2 L375.88,170.1 L376.04,174.2 L376.20,179.7 L376.36,175.5 L376.52,171.4 L376.68,172.2 L376.84,173.4 L377.00,168.7 L377.16,167.0 L377.32,170.9 L377.48,167.6 L377.64,171.0 L377.80,171.7 L377.96,180.0 L378.12,168.4 L378.28,171.2 L378.44,171.2 L378.60,173.7 L378.76,176.1 L378.92,170.5 L379.08,169.4 L379.24,166.4 L379.40,169.0 L379.56,174.6 L379.72,172.9 L379.88,169.0 L380.04,171.4 L380.20,172.7 L380.36,174.4 L380.52,170.5 L380.68,172.0 L380.84,166.4 L381.00,169.0 L381.16,179.2 L381.32,165.7 L381.48,172.4 L381.64,174.3 L381.80,172.0 L381.96,170.7 L382.12,173.4 L382.28,173.6 L382.44,173.2 L382.60,166.8 L382.76,173.0 L382.92,170.9 L383.08,172.1 L383.24,174.7 L383.40,176.2 L383.56,177.2 L383.72,172.5 L383.88,177.5 L384.04,178.8 L384.20,178.7 L384.36,179.6 L384.52,174.0 L384.68,173.9 L384.84,177.2 L385.00,169.8 L385.16,175.3 L385.32,173.0 L385.48,173.7 L385.64,169.0 L385.80,171.7 L385.96,174.7 L386.12,177.8 L386.28,178.3 L386.44,174.7 L386.60,174.4 L386.76,172.5 L386.92,176.9 L387.08,174.7 L387.24,177.5 L387.40,181.3 L387.56,175.3 L387.72,166.5 L387.88,170.2 L388.04,170.7 L388.20,171.3 L388.36,179.5 L388.52,175.9 L388.68,170.4 L388.84,177.7 L389.00,179.8 L389.16,174.4 L389.32,173.5 L389.48,174.7 L389.64,176.7 L389.80,177.9 L389.96,179.9 L390.12,180.0 L390.28,180.0 L390.44,180.7 L390.60,178.5 L390.76,171.3 L390.92,176.0 L391.08,177.4 L391.24,175.4 L391.40,179.7 L391.56,175.6 L391.72,174.0 L391.88,181.6 L392.04,179.2 L392.20,178.0 L392.36,180.1 L392.52,183.1 L392.68,178.4 L392.84,169.8 L393.00,175.2 L393.16,176.0 L393.32,174.4 L393.48,178.1 L393.64,181.1 L393.80,175.9 L393.96,173.8 L394.12,183.7 L394.28,176.2 L394.44,173.8 L394.60,178.3 L394.76,178.9 L394.92,175.5 L395.08,180.0 L395.24,176.3 L395.40,175.0 L395.56,178.3 L395.72,180.1 L395.88,175.9 L396.04,178.9 L396.20,177.5 L396.36,186.4 L396.52,175.9 L396.68,182.1 L396.84,178.0 L397.00,177.9 L397.16,180.6 L397.32,181.2 L397.48,182.4 L397.64,179.6 L397.80,177.0 L397.96,177.3 L398.12,180.6 L398.28,181.1 L398.44,183.6 L398.60,180.8 L398.76,182.8 L398.92,184.1 L399.08,180.1 L399.24,175.3 L399.40,176.4 L399.56,175.6 L399.72,184.5 L399.88,177.5 L400.04,183.4 L400.20,181.6 L400.36,184.8 L400.52,182.6 L400.68,179.5 L400.84,179.3 L401.00,180.2 L401.16,180.6 L401.32,178.5 L401.48,179.9 L401.64,184.5 L401.80,175.1 L401.96,180.9 L402.12,177.7 L402.28,180.7 L402.44,182.6 L402.60,180.3 L402.76,182.7 L402.92,176.0 L403.08,183.6 L403.24,178.9 L403.40,182.5 L403.56,181.3 L403.72,173.8 L403.88,178.9 L404.04,181.9 L404.20,185.7 L404.36,182.3 L404.52,182.2 L404.68,177.8 L404.84,185.6 L405.00,186.6 L405.16,181.9 L405.32,181.3 L405.48,177.5 L405.64,184.2 L405.80,194.8 L405.96,183.7 L406.12,185.1 L406.28,183.3 L406.44,179.2 L406.60,185.5 L406.76,178.6 L406.92,181.4 L407.08,182.6 L407.24,184.1 L407.40,183.1 L407.56,183.1 L407.72,180.1 L407.88,178.5 L408.04,182.0 L408.20,180.0 L408.36,178.6 L408.52,178.6 L408.68,180.8 L408.84,177.2 L409.00,178.5 L409.16,178.0 L409.32,182.6 L409.48,183.1 L409.64,187.3 L409.80,178.3 L409.96,180.6 L410.12,184.7 L410.28,181.9 L410.44,181.5 L410.60,186.6 L410.76,181.5 L410.92,179.5 L411.08,179.1 L411.24,183.4 L411.40,183.4 L411.56,179.1 L411.72,180.0 L411.88,184.0 L412.04,184.2 L412.20,181.1 L412.36,184.3 L412.52,184.3 L412.68,178.5 L412.84,182.2 L413.00,184.7 L413.16,181.5 L413.32,177.8 L413.48,182.3 L413.64,184.8 L413.80,186.9 L413.96,177.8 L414.12,189.6 L414.28,180.6 L414.44,185.7 L414.60,186.5 L414.76,185.9 L414.92,184.3 L415.08,181.1 L415.24,185.6 L415.40,182.5 L415.56,178.3 L415.72,191.2 L415.88,186.1 L416.04,188.8 L416.20,182.5 L416.36,188.2 L416.52,188.6 L416.68,188.7 L416.84,185.1 L417.00,182.3 L417.16,184.8 L417.32,180.0 L417.48,181.3 L417.64,185.6 L417.80,183.2 L417.96,185.2 L418.12,185.5 L418.28,190.4 L418.44,189.1 L418.60,186.2 L418.76,189.2 L418.92,184.6 L419.08,185.7 L419.24,188.8 L419.40,181.7 L419.56,186.3 L419.72,184.0 L419.88,187.3 L420.04,191.1 L420.20,185.8 L420.36,188.1 L420.52,185.9 L420.68,185.7 L420.84,185.7 L421.00,191.5 L421.16,193.6 L421.32,190.0 L421.48,187.7 L421.64,190.7 L421.80,188.7 L421.96,191.0 L422.12,190.2 L422.28,190.4 L422.44,191.2 L422.60,189.3 L422.76,189.7 L422.92,187.6 L423.08,190.0 L423.24,188.6 L423.40,190.8 L423.56,189.7 L423.72,191.5 L423.88,192.4" fill="none" stroke="#000" stroke-width="0.9" stroke-linejoin="bevel"/>
<path d="M423.56,189.67 L423.72,191.52 L423.88,192.37 L424.04,190.12 L424.20,191.61 L424.36,191.97 L424.52,195.01 L424.68,196.74 L424.84,196.03 L425.00,195.01 L425.70,199.77 L426.40,198.75 L427.10,204.48 L427.80,204.78 L428.50,205.33 L429.20,211.74 L429.90,212.65 L430.60,212.46 L431.30,215.23 L432.00,216.83 L432.70,218.93 L433.40,219.20 L434.10,220.92 L434.80,222.89 L435.50,223.90 L436.20,225.68 L436.90,226.21 L437.60,228.55 L438.30,227.71 L439.00,229.13 L439.70,228.82 L440.40,230.12 L441.10,232.42 L441.80,232.13 L442.50,233.79 L443.20,234.37 L443.90,234.82 L444.60,236.08 L445.30,236.92 L446.00,237.85 L446.70,238.98 L447.40,239.45 L448.10,239.36 L448.80,239.74 L449.50,240.82 L450.20,241.18 L450.90,242.22 L451.60,243.50 L452.30,243.23 L453.00,243.38 L453.70,243.89 L454.40,244.14 L455.10,244.66 L455.80,245.13 L456.50,245.96 L457.20,246.50 L457.90,247.48 L458.60,247.47 L459.30,248.04 L460.00,248.10 L460.70,249.82 L461.40,249.82 L462.10,250.86 L462.80,250.91 L463.50,252.20 L464.20,251.45 L464.90,252.33 L465.60,253.72 L466.30,252.54 L467.00,254.04 L467.70,254.76 L468.40,254.70 L469.10,255.33 L469.80,256.04 L470.50,255.51 L471.20,256.24 L471.90,255.65 L472.60,256.30 L473.30,256.60 L474.00,257.06 L474.70,257.44 L475.40,257.79 L476.10,257.26 L476.80,258.92 L477.50,258.85 L478.20,258.93 L478.90,258.75 L479.60,259.13 L480.30,259.64 L481.00,259.98 L481.70,259.29 L482.40,260.49 L483.10,261.60 L483.80,259.98 L484.50,261.36 L485.20,261.31 L485.90,261.27 L486.60,261.99 L487.30,261.13 L488.00,261.82 L488.70,262.48 L489.40,261.98 L490.10,262.09 L490.80,262.47 L491.50,262.41 L492.20,263.34 L492.90,262.54 L493.60,263.38 L494.30,262.68 L495.00,263.59 L495.70,263.39 L496.40,262.58 L497.10,263.75 L497.80,263.50 L498.50,263.88 L499.20,264.81 L499.90,263.93 L500.60,264.05 L501.30,265.13 L502.00,264.70 L502.70,265.35 L503.40,264.96 L504.10,264.59 L504.80,264.99 L505.50,265.97 L506.20,265.57 L506.90,265.30 L507.60,265.39 L508.30,265.43 L509.00,265.34 L509.70,266.41 L510.40,265.72 L511.10,265.37 L511.80,265.72 L512.50,266.29 L513.20,266.35 L513.90,266.13 L514.60,266.04 L515.30,266.40 L516.00,265.80 L516.70,266.02 L517.40,266.98 L518.10,266.58 L518.80,266.99 L519.50,267.39 L520.20,267.22 L520.90,267.05 L521.60,267.94 L522.30,267.46 L523.00,267.14 L523.70,267.59 L524.40,267.55 L525.10,267.13 L525.80,267.54 L526.50,267.54 L527.20,266.92 L527.90,267.70 L528.60,267.73 L529.30,267.74 L530.00,267.34 L530.70,267.90 L531.40,268.11 L532.10,268.24 L532.80,267.83 L533.50,268.60 L534.20,267.95 L534.90,268.40 L535.60,269.08 L536.30,268.38 L537.00,268.53 L537.70,269.22 L538.40,268.74 L539.10,268.83 L539.80,269.10 L540.50,269.50 L541.20,268.29 L541.90,268.91 L542.60,268.91 L543.30,268.95 L544.00,269.14 L544.70,269.21 L545.40,269.71 L546.10,269.30 L546.80,269.78 L547.50,269.96 L548.20,269.58 L548.90,269.98 L549.60,270.64 L550.30,270.18 L551.00,269.87 L551.70,270.15 L552.40,269.90 L553.10,270.43 L553.80,270.73 L554.50,270.13 L555.20,270.42 L555.90,271.01 L556.60,270.41 L557.30,270.73 L558.00,270.34 L558.70,270.50 L559.40,270.66 L560.10,271.74 L560.80,270.82 L561.50,270.85 L562.20,270.91 L562.90,271.09 L563.60,271.46 L564.30,271.32 L565.00,272.11 L565.70,271.48 L566.40,272.00 L567.10,271.62 L567.80,271.81 L568.50,271.07 L569.20,271.65 L569.90,271.72 L570.60,271.72 L571.30,271.08 L572.00,272.28 L572.70,271.88 L573.40,271.90 L574.10,272.02 L574.80,272.08 L575.50,272.38 L576.20,271.79 L576.90,271.98 L577.60,272.49 L578.30,272.49 L579.00,272.34 L579.70,272.33 L580.40,272.04 L581.10,272.64 L581.80,273.17 L582.50,272.38 L583.20,273.42 L583.90,273.21 L584.60,272.78 L585.30,273.30 L586.00,272.49 L586.70,272.44 L587.40,272.68 L588.10,273.07 L588.80,273.15 L589.50,272.98 L590.20,273.41 L590.90,272.62 L591.60,273.67 L592.30,273.00 L593.00,273.35" fill="none" stroke="#000" stroke-width="1.25" stroke-linejoin="round"/>
<rect x="215" y="41" width="8" height="54" fill="#1e3232" style="mix-blend-mode:screen"/>
<rect x="403" y="151" width="8" height="40" fill="#1e3232" style="mix-blend-mode:screen"/>
<rect x="582" y="240" width="8" height="40" fill="#1e3232" style="mix-blend-mode:screen"/>
<text x="74.5" y="353.8" font-family="Liberation Serif" font-size="19.5" font-weight="bold" font-style="italic" text-anchor="middle" fill="#000">i</text>
<text x="340.4" y="353.8" font-family="Liberation Serif" font-size="19.5" font-weight="bold" font-style="italic" text-anchor="middle" fill="#000">ii</text>
<text x="581.6" y="350.7" font-family="Liberation Serif" font-size="19.5" font-weight="bold" font-style="italic" text-anchor="middle" fill="#000">iii</text>
<text x="0" y="397.9" font-family="Liberation Sans" font-size="14" font-weight="normal" font-style="normal" text-anchor="start" fill="#000">0.1 mmHg</text>
<line x1="67.70" y1="376.60" x2="67.70" y2="416.20" stroke="#000" stroke-width="1.5"/>
<line x1="87.20" y1="466.80" x2="140.00" y2="466.80" stroke="#000" stroke-width="1.5"/>
<text x="93.8" y="480" font-family="Liberation Sans" font-size="14" font-weight="normal" font-style="normal" text-anchor="start" fill="#000">30 sec</text>
<text x="81.4" y="454.8" font-family="Liberation Sans" font-size="11" font-weight="normal" font-style="normal" text-anchor="end" fill="#000">4.26</text>
<path d="M83.8,447.8 L88.3,450.5 L83.8,453.2 Z" fill="#000"/>
<line x1="88.30" y1="450.50" x2="294.50" y2="450.50" stroke="#2f4848" stroke-width="1.4" stroke-dasharray="4.8,2.2"/>
<text x="329.7" y="454.7" font-family="Liberation Sans" font-size="11" font-weight="normal" font-style="normal" text-anchor="end" fill="#000">3.52</text>
<path d="M332.6,447.8 L337.0,450.5 L332.6,453.2 Z" fill="#000"/>
<line x1="337.00" y1="450.50" x2="542.00" y2="450.50" stroke="#2f4848" stroke-width="1.4" stroke-dasharray="4.8,2.2"/>
<text x="585.0" y="453.7" font-family="Liberation Sans" font-size="11" font-weight="normal" font-style="normal" text-anchor="end" fill="#000">2.89</text>
<path d="M587.1,447.2 L592.0,449.9 L587.1,452.6 Z" fill="#000"/>
<line x1="592.00" y1="449.90" x2="798.00" y2="449.90" stroke="#587070" stroke-width="1.7" stroke-dasharray="5.1,1.9"/>
<path d="M87.90,390.20 L88.39,382.33 L89.11,370.73 L89.87,359.76 L90.50,353.80 L90.96,354.98 L91.35,360.64 L91.69,367.98 L92.00,374.20 L92.27,379.00 L92.50,383.72 L92.73,388.03 L93.00,391.60 L93.35,394.03 L93.74,395.61 L94.14,397.01 L94.50,398.90 L94.79,401.26 L95.05,403.79 L95.31,406.77 L95.60,410.50 L95.95,415.57 L96.34,421.65 L96.74,427.63 L97.10,432.40 L97.41,435.81 L97.69,438.41 L97.97,440.10 L98.30,440.80 L98.69,440.14 L99.12,438.28 L99.56,435.93 L100.00,433.80 L100.44,432.10 L100.88,430.44 L101.31,428.63 L101.70,426.50 L102.03,424.24 L102.31,421.88 L102.59,418.93 L102.90,414.90 L103.26,408.98 L103.66,401.66 L104.05,394.41 L104.40,388.70 L104.69,384.80 L104.95,381.96 L105.21,380.14 L105.50,379.30 L105.84,379.31 L106.21,380.23 L106.60,382.31 L107.00,385.80 L107.40,391.44 L107.81,398.88 L108.24,406.70 L108.70,413.50 L109.23,419.10 L109.81,424.18 L110.39,428.65 L110.90,432.40 L111.33,435.68 L111.70,438.45 L112.05,440.20 L112.40,440.40 L112.75,438.79 L113.10,435.67 L113.45,431.45 L113.80,426.50 L114.15,420.46 L114.49,413.29 L114.86,405.82 L115.30,398.90 L115.85,391.85 L116.48,384.52 L117.11,378.56 L117.70,375.60 L118.21,376.67 L118.68,380.69 L119.14,386.17 L119.60,391.60 L120.08,397.05 L120.57,403.18 L121.05,409.33 L121.50,414.90 L121.91,420.20 L122.28,425.39 L122.64,429.64 L123.00,432.10 L123.35,431.94 L123.68,429.81 L124.02,427.08 L124.40,425.10 L124.83,424.55 L125.30,424.61 L125.77,424.36 L126.20,422.90 L126.58,419.56 L126.92,414.96 L127.25,410.15 L127.60,406.20 L127.97,403.43 L128.36,401.26 L128.74,399.39 L129.10,397.50 L129.41,395.76 L129.69,394.26 L129.97,392.55 L130.30,390.20 L130.69,386.39 L131.12,381.59 L131.56,377.27 L132.00,374.90 L132.44,375.07 L132.88,376.94 L133.31,379.79 L133.70,382.90 L134.02,386.20 L134.29,390.04 L134.57,394.30 L134.90,398.90 L135.32,404.01 L135.79,409.62 L136.26,415.32 L136.70,420.70 L137.07,425.90 L137.41,431.06 L137.75,435.76 L138.10,439.60 L138.48,442.82 L138.88,445.52 L139.28,447.08 L139.70,446.90 L140.14,444.43 L140.61,440.11 L141.07,434.84 L141.50,429.50 L141.88,423.83 L142.24,417.54 L142.60,411.40 L143.00,406.20 L143.48,401.82 L144.00,397.95 L144.52,395.10 L145.00,393.80 L145.42,394.38 L145.81,396.51 L146.16,399.65 L146.50,403.30 L146.80,407.87 L147.07,413.45 L147.33,419.03 L147.60,423.60 L147.89,426.85 L148.18,429.34 L148.48,431.34 L148.80,433.10 L149.17,434.62 L149.56,435.78 L149.95,436.70 L150.30,437.50 L150.58,438.54 L150.81,439.66 L151.03,440.14 L151.30,439.30 L151.62,436.99 L151.97,433.56 L152.33,429.08 L152.70,423.60 L153.07,416.61 L153.45,408.25 L153.83,399.57 L154.20,391.60 L154.55,384.29 L154.90,377.19 L155.25,370.77 L155.60,365.50 L155.97,361.25 L156.35,357.86 L156.73,355.74 L157.10,355.30 L157.45,357.12 L157.80,360.82 L158.15,365.39 L158.50,369.80 L158.86,374.21 L159.22,379.01 L159.59,383.58 L160.00,387.30 L160.45,389.58 L160.94,390.90 L161.43,392.22 L161.90,394.50 L162.34,398.22 L162.78,402.79 L163.19,407.59 L163.60,412.00 L163.99,416.55 L164.37,421.34 L164.74,425.09 L165.10,426.50 L165.45,424.71 L165.78,420.59 L166.12,415.42 L166.50,410.50 L166.93,405.74 L167.40,400.59 L167.87,395.68 L168.30,391.60 L168.67,388.03 L168.99,384.79 L169.32,382.79 L169.70,382.90 L170.14,386.09 L170.62,391.65 L171.11,397.93 L171.60,403.30 L172.08,407.34 L172.58,410.91 L173.05,414.31 L173.50,417.80 L173.90,421.46 L174.26,425.14 L174.62,428.80 L175.00,432.40 L175.41,436.49 L175.83,440.89 L176.26,444.51 L176.70,446.20 L177.14,445.47 L177.59,442.98 L178.04,439.37 L178.50,435.30 L178.96,430.31 L179.43,424.27 L179.91,418.29 L180.40,413.50 L180.92,410.49 L181.46,408.56 L181.99,406.90 L182.50,404.70 L182.98,401.59 L183.43,398.05 L183.87,394.56 L184.30,391.60 L184.72,388.94 L185.13,386.46 L185.53,384.74 L185.90,384.40 L186.25,385.98 L186.58,389.02 L186.89,392.66 L187.20,396.00 L187.52,399.12 L187.83,402.39 L188.13,405.36 L188.40,407.60 L188.62,408.96 L188.81,409.69 L189.00,409.93 L189.20,409.80 L189.44,409.08 L189.69,407.79 L189.95,406.43 L190.20,405.50 L190.45,405.05 L190.69,404.82 L190.94,404.94 L191.20,405.50 L191.47,406.55 L191.76,408.03 L192.06,409.86 L192.40,412.00 L192.79,414.67 L193.21,417.84 L193.65,420.98 L194.10,423.60 L194.56,425.67 L195.04,427.41 L195.52,428.73 L196.00,429.50 L196.48,429.49 L196.96,428.82 L197.44,427.94 L197.90,427.30 L198.34,426.93 L198.78,426.63 L199.19,426.46 L199.60,426.50 L199.99,427.18 L200.37,428.32 L200.74,429.10 L201.10,428.70 L201.45,426.77 L201.78,423.78 L202.12,420.18 L202.50,416.40 L202.92,412.10 L203.37,407.20 L203.83,402.52 L204.30,398.90 L204.78,396.48 L205.28,394.84 L205.76,393.96 L206.20,393.80 L206.57,394.37 L206.90,395.69 L207.23,397.72 L207.60,400.40 L208.07,404.36 L208.60,409.42 L209.10,414.31 L209.50,417.80 L209.72,419.36 L209.82,419.71 L209.91,419.49 L210.10,419.30 L210.44,419.44 L210.86,419.54 L211.30,419.22 L211.70,418.10 L212.04,415.91 L212.36,412.89 L212.67,409.51 L213.00,406.20 L213.36,402.75 L213.74,399.04 L214.13,395.64 L214.50,393.10 L214.85,391.81 L215.19,391.39 L215.54,391.27 L215.90,390.90 L216.29,389.91 L216.71,388.68 L217.12,387.73 L217.50,387.60 L217.85,388.63 L218.17,390.48 L218.49,392.61 L218.80,394.50 L219.11,396.01 L219.41,397.43 L219.70,398.86 L220.00,400.40 L220.30,401.90 L220.59,403.37 L220.89,405.15 L221.20,407.60 L221.53,411.32 L221.88,415.96 L222.24,420.41 L222.60,423.60 L222.97,424.86 L223.35,424.89 L223.73,424.66 L224.10,425.10 L224.45,426.42 L224.78,428.12 L225.12,430.14 L225.50,432.40 L225.92,435.17 L226.38,438.40 L226.85,441.53 L227.30,444.00 L227.74,445.88 L228.19,447.39 L228.61,448.24 L229.00,448.10 L229.34,446.96 L229.64,444.95 L229.92,442.04 L230.20,438.20 L230.48,432.79 L230.76,426.05 L231.03,419.21 L231.30,413.50 L231.57,409.14 L231.83,405.50 L232.10,402.59 L232.40,400.40 L232.73,399.29 L233.07,399.15 L233.44,399.26 L233.80,398.90 L234.17,397.57 L234.55,395.76 L234.93,394.24 L235.30,393.80 L235.65,394.69 L235.98,396.48 L236.32,398.93 L236.70,401.80 L237.14,405.43 L237.62,409.80 L238.12,414.18 L238.60,417.80 L239.06,420.53 L239.52,422.76 L239.97,424.50 L240.40,425.80 L240.80,427.05 L241.18,428.10 L241.55,428.18 L241.90,426.50 L242.22,422.38 L242.53,416.40 L242.84,409.67 L243.20,403.30 L243.64,397.07 L244.14,390.56 L244.65,384.60 L245.10,380.00 L245.48,377.05 L245.83,375.28 L246.15,374.42 L246.50,374.20 L246.87,374.60 L247.24,375.74 L247.62,377.56 L248.00,380.00 L248.37,383.18 L248.73,387.09 L249.10,391.45 L249.50,396.00 L249.93,400.83 L250.38,406.02 L250.84,411.30 L251.30,416.40 L251.74,421.28 L252.18,426.08 L252.62,430.76 L253.10,435.30 L253.64,440.41 L254.22,445.88 L254.80,450.23 L255.30,452.00 L255.70,450.70 L256.04,447.15 L256.36,441.85 L256.70,435.30 L257.08,426.59 L257.47,415.79 L257.86,404.92 L258.20,396.00 L258.48,389.48 L258.72,384.32 L258.95,380.27 L259.20,377.10 L259.49,374.96 L259.79,373.89 L260.10,373.54 L260.40,373.50 L260.67,374.10 L260.91,375.39 L261.18,376.64 L261.50,377.10 L261.92,376.09 L262.40,374.18 L262.88,372.45 L263.30,372.00 L263.61,373.03 L263.87,374.98 L264.11,377.82 L264.40,381.50 L264.74,386.30 L265.11,392.14 L265.50,398.47 L265.90,404.70 L266.30,410.93 L266.71,417.37 L267.14,423.68 L267.60,429.50 L268.13,435.25 L268.71,440.96 L269.29,445.66 L269.80,448.40 L270.21,448.82 L270.57,447.47 L270.91,444.76 L271.30,441.10 L271.75,436.05 L272.24,429.57 L272.73,422.68 L273.20,416.40 L273.64,410.64 L274.06,404.98 L274.47,399.92 L274.90,396.00 L275.36,393.49 L275.84,392.08 L276.30,391.35 L276.70,390.90 L277.02,390.95 L277.29,391.61 L277.53,392.29 L277.80,392.40 L278.09,391.25 L278.38,389.34 L278.68,387.85 L279.00,388.00 L279.33,390.32 L279.66,394.11 L280.02,398.66 L280.40,403.30 L280.83,408.26 L281.30,413.77 L281.77,419.12 L282.20,423.60 L282.58,427.34 L282.92,430.61 L283.25,432.92 L283.60,433.80 L283.96,433.02 L284.33,430.88 L284.71,427.65 L285.10,423.60 L285.51,418.44 L285.93,412.16 L286.36,405.41 L286.80,398.90 L287.28,392.37 L287.78,385.60 L288.27,379.31 L288.70,374.20 L289.05,370.24 L289.34,367.13 L289.61,365.18 L289.90,364.70 L290.22,366.11 L290.55,369.12 L290.88,373.03 L291.20,377.10 L291.51,381.47 L291.82,386.42 L292.12,391.43 L292.40,396.00 L292.69,400.27 L292.97,404.43 L293.22,408.00 L293.40,410.50" fill="none" stroke="#000" stroke-width="1.8" stroke-linejoin="round" stroke-linecap="round"/>
<path d="M336.80,421.40 L336.89,421.93 L337.02,422.69 L337.16,423.56 L337.30,424.40 L337.42,425.25 L337.53,426.14 L337.65,426.99 L337.80,427.70 L337.97,428.20 L338.16,428.56 L338.36,428.87 L338.60,429.20 L338.88,429.55 L339.19,429.88 L339.51,430.25 L339.80,430.70 L340.04,431.21 L340.26,431.77 L340.47,432.44 L340.70,433.30 L340.96,434.47 L341.24,435.88 L341.52,437.30 L341.80,438.50 L342.08,439.44 L342.36,440.22 L342.64,440.88 L342.90,441.40 L343.13,441.85 L343.35,442.21 L343.57,442.37 L343.80,442.20 L344.06,441.59 L344.33,440.63 L344.61,439.53 L344.90,438.50 L345.18,437.55 L345.47,436.58 L345.77,435.65 L346.10,434.80 L346.48,433.95 L346.91,433.11 L347.33,432.46 L347.70,432.20 L348.01,432.48 L348.29,433.16 L348.55,434.01 L348.80,434.80 L349.03,435.55 L349.24,436.34 L349.45,437.09 L349.70,437.70 L349.99,438.16 L350.31,438.52 L350.65,438.74 L351.00,438.80 L351.37,438.67 L351.76,438.38 L352.15,437.95 L352.50,437.40 L352.80,436.67 L353.07,435.77 L353.33,434.84 L353.60,434.00 L353.87,433.24 L354.13,432.51 L354.40,431.87 L354.70,431.40 L355.05,431.22 L355.44,431.25 L355.83,431.28 L356.20,431.10 L356.54,430.72 L356.86,430.23 L357.18,429.52 L357.50,428.50 L357.83,426.99 L358.16,425.09 L358.49,423.12 L358.80,421.40 L359.09,419.84 L359.36,418.32 L359.63,417.15 L359.90,416.60 L360.17,416.87 L360.42,417.78 L360.70,419.01 L361.00,420.30 L361.35,421.65 L361.73,423.19 L362.12,424.78 L362.50,426.30 L362.88,427.79 L363.28,429.29 L363.65,430.67 L364.00,431.80 L364.29,432.62 L364.53,433.22 L364.79,433.65 L365.10,434.00 L365.52,434.17 L366.00,434.17 L366.48,434.19 L366.90,434.40 L367.23,434.90 L367.51,435.59 L367.76,436.33 L368.00,437.00 L368.21,437.73 L368.40,438.54 L368.59,439.12 L368.80,439.20 L369.05,438.67 L369.33,437.69 L369.62,436.37 L369.90,434.80 L370.17,432.83 L370.45,430.47 L370.72,428.05 L371.00,425.90 L371.27,424.09 L371.55,422.45 L371.82,420.96 L372.10,419.60 L372.38,418.46 L372.65,417.52 L372.93,416.60 L373.20,415.50 L373.47,414.09 L373.75,412.50 L374.02,410.93 L374.30,409.60 L374.57,408.45 L374.85,407.42 L375.13,406.65 L375.40,406.30 L375.67,406.44 L375.95,406.98 L376.22,407.83 L376.50,408.90 L376.77,410.21 L377.05,411.81 L377.32,413.59 L377.60,415.50 L377.87,417.51 L378.13,419.67 L378.40,421.97 L378.70,424.40 L379.05,427.07 L379.43,429.95 L379.82,432.83 L380.20,435.50 L380.57,438.05 L380.95,440.53 L381.32,442.73 L381.70,444.40 L382.08,445.37 L382.48,445.81 L382.85,445.99 L383.20,446.20 L383.49,446.57 L383.75,446.93 L384.01,447.12 L384.30,447.00 L384.65,446.52 L385.04,445.76 L385.43,444.77 L385.80,443.60 L386.14,442.23 L386.48,440.64 L386.79,438.89 L387.10,437.00 L387.39,434.92 L387.66,432.64 L387.93,430.32 L388.20,428.10 L388.47,425.91 L388.75,423.71 L389.02,421.68 L389.30,420.00 L389.57,418.72 L389.85,417.74 L390.13,417.04 L390.40,416.60 L390.67,416.51 L390.94,416.74 L391.22,417.11 L391.50,417.40 L391.80,417.61 L392.10,417.82 L392.40,418.00 L392.70,418.10 L392.98,418.02 L393.26,417.81 L393.53,417.67 L393.80,417.80 L394.07,418.33 L394.33,419.14 L394.60,420.00 L394.90,420.70 L395.26,421.09 L395.65,421.31 L396.04,421.60 L396.40,422.20 L396.70,423.24 L396.97,424.57 L397.23,426.02 L397.50,427.40 L397.77,428.71 L398.05,430.04 L398.32,431.33 L398.60,432.50 L398.87,433.56 L399.13,434.52 L399.40,435.41 L399.70,436.20 L400.06,437.03 L400.45,437.86 L400.84,438.44 L401.20,438.50 L401.49,437.88 L401.75,436.74 L402.01,435.35 L402.30,434.00 L402.66,432.52 L403.05,430.86 L403.44,429.39 L403.80,428.50 L404.10,428.46 L404.38,429.01 L404.63,429.75 L404.90,430.30 L405.17,430.62 L405.45,430.91 L405.72,431.09 L406.00,431.10 L406.27,430.97 L406.55,430.73 L406.82,430.29 L407.10,429.60 L407.38,428.48 L407.66,427.02 L407.94,425.55 L408.20,424.40 L408.44,423.63 L408.66,423.06 L408.88,422.72 L409.10,422.60 L409.32,422.80 L409.54,423.29 L409.76,423.89 L410.00,424.40 L410.26,424.87 L410.53,425.36 L410.81,425.74 L411.10,425.90 L411.39,425.68 L411.69,425.20 L412.00,424.69 L412.30,424.40 L412.60,424.37 L412.91,424.47 L413.21,424.71 L413.50,425.10 L413.76,425.64 L414.01,426.32 L414.25,427.14 L414.50,428.10 L414.77,429.30 L415.04,430.71 L415.32,432.11 L415.60,433.30 L415.88,434.26 L416.15,435.09 L416.43,435.75 L416.70,436.20 L416.97,436.38 L417.25,436.32 L417.52,436.13 L417.80,435.90 L418.07,435.59 L418.35,435.18 L418.63,434.75 L418.90,434.40 L419.17,434.13 L419.45,433.89 L419.72,433.73 L420.00,433.70 L420.27,433.82 L420.55,434.07 L420.82,434.41 L421.10,434.80 L421.37,435.35 L421.64,436.04 L421.92,436.66 L422.20,437.00 L422.50,436.97 L422.80,436.68 L423.10,436.28 L423.40,435.90 L423.68,435.56 L423.94,435.20 L424.21,434.81 L424.50,434.40 L424.83,433.92 L425.18,433.40 L425.54,432.90 L425.90,432.50 L426.28,432.28 L426.67,432.17 L427.05,432.05 L427.40,431.80 L427.70,431.35 L427.97,430.78 L428.23,430.16 L428.50,429.60 L428.77,429.01 L429.05,428.39 L429.32,427.90 L429.60,427.70 L429.87,427.90 L430.13,428.39 L430.40,429.01 L430.70,429.60 L431.04,430.25 L431.41,431.01 L431.80,431.61 L432.20,431.80 L432.63,431.29 L433.09,430.29 L433.53,429.30 L433.90,428.80 L434.17,428.95 L434.37,429.49 L434.57,430.25 L434.80,431.10 L435.09,432.09 L435.40,433.26 L435.74,434.45 L436.10,435.50 L436.50,436.49 L436.93,437.46 L437.37,438.20 L437.80,438.50 L438.22,438.17 L438.64,437.38 L439.07,436.39 L439.50,435.50 L439.95,434.80 L440.41,434.13 L440.87,433.40 L441.30,432.50 L441.70,431.38 L442.07,430.11 L442.43,428.76 L442.80,427.40 L443.18,425.91 L443.55,424.31 L443.93,422.85 L444.30,421.80 L444.67,421.35 L445.03,421.32 L445.40,421.43 L445.80,421.40 L446.25,421.09 L446.73,420.66 L447.19,420.33 L447.60,420.30 L447.92,420.63 L448.19,421.21 L448.44,421.98 L448.70,422.90 L448.97,424.07 L449.25,425.47 L449.52,426.89 L449.80,428.10 L450.07,429.18 L450.34,430.21 L450.62,430.93 L450.90,431.10 L451.20,430.46 L451.52,429.22 L451.83,427.79 L452.10,426.60 L452.32,425.63 L452.51,424.69 L452.70,423.98 L452.90,423.70 L453.13,423.98 L453.38,424.69 L453.64,425.63 L453.90,426.60 L454.17,427.60 L454.44,428.71 L454.72,429.90 L455.00,431.10 L455.27,432.38 L455.54,433.74 L455.81,435.06 L456.10,436.20 L456.41,437.20 L456.74,438.11 L457.08,438.82 L457.40,439.20 L457.71,439.23 L458.01,438.96 L458.30,438.44 L458.60,437.70 L458.90,436.66 L459.21,435.32 L459.51,433.88 L459.80,432.50 L460.08,431.15 L460.36,429.77 L460.63,428.48 L460.90,427.40 L461.17,426.50 L461.45,425.74 L461.72,425.24 L462.00,425.10 L462.27,425.41 L462.54,426.09 L462.82,427.02 L463.10,428.10 L463.40,429.37 L463.70,430.87 L464.00,432.46 L464.30,434.00 L464.58,435.64 L464.86,437.39 L465.13,438.92 L465.40,439.90 L465.67,440.07 L465.95,439.65 L466.22,439.08 L466.50,438.80 L466.77,438.96 L467.02,439.32 L467.30,439.70 L467.60,439.90 L467.96,439.80 L468.35,439.52 L468.74,439.26 L469.10,439.20 L469.40,439.39 L469.68,439.72 L469.93,440.17 L470.20,440.70 L470.48,441.39 L470.76,442.22 L471.04,443.02 L471.30,443.60 L471.53,443.93 L471.74,444.09 L471.96,444.11 L472.20,444.00 L472.48,443.77 L472.78,443.41 L473.09,442.89 L473.40,442.20 L473.70,441.24 L474.01,440.04 L474.31,438.80 L474.60,437.70 L474.88,436.72 L475.16,435.79 L475.43,434.99 L475.70,434.40 L475.97,434.14 L476.25,434.13 L476.52,434.16 L476.80,434.00 L477.07,433.57 L477.34,432.99 L477.62,432.36 L477.90,431.80 L478.20,431.25 L478.50,430.69 L478.80,430.24 L479.10,430.00 L479.38,430.05 L479.66,430.30 L479.93,430.68 L480.20,431.10 L480.47,431.57 L480.73,432.13 L481.00,432.72 L481.30,433.30 L481.63,433.80 L481.99,434.26 L482.36,434.80 L482.70,435.50 L483.02,436.49 L483.32,437.69 L483.61,438.90 L483.90,439.90 L484.18,440.67 L484.44,441.31 L484.71,441.81 L485.00,442.20 L485.33,442.44 L485.69,442.54 L486.06,442.54 L486.40,442.50 L486.71,442.46 L487.00,442.38 L487.29,442.18 L487.60,441.80 L487.94,441.20 L488.30,440.42 L488.66,439.51 L489.00,438.50 L489.32,437.31 L489.63,435.94 L489.93,434.61 L490.20,433.50 L490.44,432.90 L490.66,432.64 L490.87,432.20 L491.10,431.10 L491.36,429.04 L491.64,426.35 L491.92,423.43 L492.20,420.70 L492.47,418.06 L492.75,415.37 L493.02,412.94 L493.30,411.10 L493.57,410.01 L493.83,409.48 L494.10,409.28 L494.40,409.20 L494.74,409.21 L495.11,409.41 L495.47,409.80 L495.80,410.40 L496.08,411.20 L496.32,412.21 L496.56,413.41 L496.80,414.80 L497.05,416.47 L497.29,418.41 L497.54,420.39 L497.80,422.20 L498.07,423.76 L498.34,425.19 L498.62,426.60 L498.90,428.10 L499.17,429.69 L499.45,431.31 L499.72,433.01 L500.00,434.80 L500.28,436.85 L500.56,439.08 L500.84,441.20 L501.10,442.90 L501.33,444.12 L501.54,445.02 L501.76,445.61 L502.00,445.90 L502.29,445.76 L502.60,445.23 L502.91,444.56 L503.20,444.00 L503.44,443.57 L503.66,443.15 L503.87,442.78 L504.10,442.50 L504.36,442.36 L504.63,442.32 L504.91,442.30 L505.20,442.20 L505.50,441.93 L505.81,441.56 L506.11,441.24 L506.40,441.10 L506.66,441.19 L506.91,441.43 L507.15,441.78 L507.40,442.20 L507.67,442.79 L507.96,443.54 L508.24,444.24 L508.50,444.70 L508.73,444.89 L508.94,444.91 L509.15,444.75 L509.40,444.40 L509.70,443.68 L510.04,442.64 L510.38,441.66 L510.70,441.10 L510.99,441.13 L511.26,441.52 L511.53,442.06 L511.80,442.50 L512.08,442.87 L512.35,443.28 L512.62,443.56 L512.90,443.60 L513.17,443.26 L513.45,442.64 L513.73,441.95 L514.00,441.40 L514.27,440.97 L514.54,440.57 L514.82,440.32 L515.10,440.30 L515.40,440.70 L515.70,441.40 L516.00,442.10 L516.30,442.50 L516.58,442.52 L516.86,442.32 L517.13,441.94 L517.40,441.40 L517.67,440.66 L517.93,439.71 L518.20,438.69 L518.50,437.70 L518.86,436.81 L519.25,435.94 L519.64,435.03 L520.00,434.00 L520.30,432.80 L520.57,431.49 L520.83,430.13 L521.10,428.80 L521.38,427.43 L521.66,426.02 L521.94,424.72 L522.20,423.70 L522.43,422.97 L522.65,422.45 L522.87,422.18 L523.10,422.20 L523.36,422.58 L523.62,423.28 L523.91,424.16 L524.20,425.10 L524.51,426.11 L524.83,427.26 L525.16,428.44 L525.50,429.60 L525.86,430.70 L526.24,431.80 L526.62,432.90 L527.00,434.00 L527.38,435.18 L527.76,436.41 L528.13,437.56 L528.50,438.50 L528.86,439.12 L529.22,439.52 L529.57,439.86 L529.90,440.30 L530.19,440.82 L530.46,441.34 L530.73,442.00 L531.00,442.90 L531.30,444.19 L531.62,445.76 L531.93,447.37 L532.20,448.80 L532.41,450.06 L532.59,451.24 L532.77,452.23 L533.00,452.90 L533.31,453.17 L533.68,453.14 L534.06,452.88 L534.40,452.50 L534.70,452.00 L534.97,451.35 L535.23,450.55 L535.50,449.60 L535.77,448.46 L536.04,447.14 L536.31,445.75 L536.60,444.40 L536.92,443.04 L537.25,441.64 L537.58,440.32 L537.90,439.20 L538.19,438.26 L538.48,437.46 L538.74,436.87 L539.00,436.60 L539.24,436.74 L539.46,437.21 L539.67,437.85 L539.90,438.50 L540.14,439.25 L540.38,440.14 L540.63,440.93 L540.90,441.40 L541.21,441.38 L541.56,441.03 L541.88,440.59 L542.10,440.30" fill="none" stroke="#000" stroke-width="1.6" stroke-linejoin="round" stroke-linecap="round"/>
<path d="M591.90,444.40 L592.34,444.29 L592.96,444.15 L593.60,444.10 L594.20,444.24 L594.80,444.48 L595.40,444.60 L595.97,444.46 L596.53,444.21 L597.10,444.10 L597.70,444.31 L598.30,444.66 L598.90,444.80 L599.47,444.56 L600.03,444.13 L600.60,443.70 L601.21,443.29 L601.83,442.88 L602.40,442.70 L602.87,442.83 L603.30,443.18 L603.80,443.70 L604.47,444.61 L605.23,445.68 L605.90,446.20 L606.40,445.66 L606.83,444.56 L607.30,443.70 L607.87,443.42 L608.49,443.38 L609.10,443.40 L609.67,443.41 L610.23,443.48 L610.80,443.60 L611.40,443.80 L612.00,444.05 L612.60,444.30 L613.17,444.59 L613.73,444.87 L614.30,445.00 L614.90,444.87 L615.50,444.59 L616.10,444.30 L616.67,444.02 L617.23,443.74 L617.80,443.60 L618.41,443.67 L619.03,443.87 L619.60,444.10 L620.10,444.31 L620.55,444.54 L621.00,444.80 L621.47,445.17 L621.93,445.56 L622.40,445.70 L622.87,445.37 L623.33,444.79 L623.80,444.40 L624.26,444.44 L624.71,444.67 L625.20,444.80 L625.74,444.66 L626.31,444.41 L626.90,444.30 L627.49,444.49 L628.10,444.82 L628.70,445.00 L629.30,444.85 L629.91,444.55 L630.50,444.40 L631.07,444.52 L631.63,444.79 L632.20,445.10 L632.80,445.49 L633.40,445.93 L634.00,446.20 L634.56,446.21 L635.11,446.05 L635.70,445.80 L636.37,445.43 L637.09,444.96 L637.80,444.60 L638.50,444.40 L639.19,444.30 L639.90,444.30 L640.63,444.42 L641.37,444.64 L642.10,444.90 L642.79,445.33 L643.47,445.80 L644.20,445.90 L645.02,445.24 L645.88,444.20 L646.70,443.50 L647.43,443.49 L648.11,443.83 L648.80,444.20 L649.50,444.61 L650.20,445.06 L650.90,445.20 L651.61,444.73 L652.33,443.97 L653.00,443.50 L653.61,443.62 L654.17,444.04 L654.70,444.50 L655.16,445.07 L655.59,445.68 L656.10,445.90 L656.74,445.41 L657.47,444.53 L658.20,443.80 L658.93,443.41 L659.67,443.18 L660.40,443.10 L661.11,443.33 L661.80,443.72 L662.50,443.80 L663.21,443.23 L663.93,442.35 L664.60,441.70 L665.19,441.57 L665.74,441.67 L666.30,441.70 L666.88,441.44 L667.47,441.10 L668.10,441.00 L668.78,441.34 L669.49,441.91 L670.20,442.40 L670.89,442.69 L671.58,442.89 L672.30,443.00 L673.10,442.96 L673.93,442.83 L674.70,442.80 L675.35,442.96 L675.93,443.21 L676.50,443.50 L677.06,443.91 L677.60,444.36 L678.20,444.50 L678.91,444.03 L679.69,443.27 L680.40,442.80 L680.99,442.97 L681.52,443.44 L682.10,443.80 L682.77,443.81 L683.49,443.70 L684.20,443.80 L684.90,444.41 L685.60,445.22 L686.30,445.60 L687.00,445.11 L687.70,444.19 L688.40,443.50 L689.07,443.36 L689.75,443.45 L690.50,443.50 L691.39,443.36 L692.36,443.17 L693.30,443.10 L694.21,443.26 L695.11,443.53 L695.90,443.80 L696.54,444.01 L697.09,444.21 L697.60,444.40 L698.07,444.66 L698.51,444.91 L699.00,444.90 L699.59,444.44 L700.21,443.73 L700.80,443.10 L701.30,442.64 L701.75,442.28 L702.20,442.10 L702.68,442.20 L703.16,442.48 L703.60,442.80 L703.92,443.16 L704.20,443.55 L704.60,443.80 L705.22,443.77 L705.96,443.60 L706.70,443.50 L707.40,443.57 L708.10,443.70 L708.80,443.80 L709.52,443.77 L710.24,443.71 L710.90,443.80 L711.46,444.17 L711.96,444.70 L712.40,445.20 L712.76,445.66 L713.06,446.08 L713.40,446.30 L713.84,446.23 L714.32,445.95 L714.80,445.60 L715.27,445.15 L715.73,444.62 L716.20,444.20 L716.65,443.98 L717.10,443.87 L717.60,443.80 L718.17,443.80 L718.79,443.84 L719.40,443.80 L719.97,443.57 L720.53,443.26 L721.10,443.10 L721.68,443.23 L722.27,443.51 L722.90,443.80 L723.58,444.04 L724.29,444.29 L725.00,444.50 L725.70,444.66 L726.40,444.79 L727.10,444.90 L727.80,445.03 L728.50,445.15 L729.20,445.20 L729.93,445.15 L730.65,445.03 L731.30,444.90 L731.82,444.71 L732.26,444.50 L732.70,444.50 L733.15,444.82 L733.60,445.34 L734.10,445.90 L734.67,446.50 L735.29,447.14 L735.90,447.70 L736.47,448.16 L737.03,448.52 L737.60,448.70 L738.20,448.62 L738.80,448.35 L739.40,448.00 L739.96,447.56 L740.51,447.04 L741.10,446.60 L741.81,446.30 L742.57,446.08 L743.20,445.90 L743.54,445.79 L743.76,445.73 L744.10,445.60 L744.71,445.25 L745.46,444.84 L746.20,444.70 L746.90,445.11 L747.60,445.81 L748.30,446.30 L749.00,446.33 L749.70,446.15 L750.40,446.10 L751.10,446.37 L751.80,446.76 L752.50,447.00 L753.20,446.97 L753.90,446.78 L754.60,446.50 L755.30,446.06 L756.00,445.54 L756.70,445.20 L757.41,445.19 L758.12,445.36 L758.80,445.60 L759.42,445.90 L760.01,446.27 L760.60,446.60 L761.20,446.93 L761.81,447.23 L762.40,447.30 L762.99,446.97 L763.56,446.40 L764.10,445.90 L764.57,445.53 L765.01,445.23 L765.50,445.10 L766.07,445.29 L766.69,445.66 L767.30,445.90 L767.87,445.90 L768.43,445.77 L769.00,445.60 L769.61,445.33 L770.23,445.02 L770.80,444.90 L771.29,445.17 L771.73,445.63 L772.20,445.90 L772.74,445.79 L773.31,445.50 L773.90,445.20 L774.48,444.87 L775.07,444.53 L775.70,444.50 L776.38,445.09 L777.09,445.98 L777.80,446.50 L778.50,446.26 L779.20,445.64 L779.90,445.20 L780.63,445.20 L781.35,445.36 L782.00,445.40 L782.52,445.19 L782.96,444.86 L783.40,444.50 L783.85,444.02 L784.30,443.50 L784.80,443.30 L785.37,443.74 L785.99,444.50 L786.60,444.90 L787.16,444.53 L787.71,443.80 L788.30,443.30 L788.97,443.30 L789.69,443.53 L790.40,443.80 L791.10,444.12 L791.80,444.49 L792.50,444.70 L793.15,444.61 L793.80,444.36 L794.60,444.20 L795.76,444.25 L797.07,444.39 L798.00,444.50" fill="none" stroke="#000" stroke-width="1.4" stroke-linejoin="round" stroke-linecap="round"/>
<text x="25.8" y="527.2" font-family="Liberation Serif" font-size="27.2" font-weight="bold" font-style="normal" text-anchor="start" fill="#000">B</text>
<line x1="80.00" y1="545.00" x2="80.00" y2="729.00" stroke="#000" stroke-width="2"/>
<line x1="71.40" y1="728.00" x2="80.00" y2="728.00" stroke="#000" stroke-width="2"/>
<text transform="translate(69.3 733.0) scale(1 1.1)" font-family="Liberation Sans" font-size="13.7" text-anchor="end" fill="#000">0.0</text>
<line x1="71.40" y1="667.30" x2="80.00" y2="667.30" stroke="#000" stroke-width="2"/>
<text transform="translate(69.3 672.3) scale(1 1.1)" font-family="Liberation Sans" font-size="13.7" text-anchor="end" fill="#000">0.2</text>
<line x1="71.40" y1="606.60" x2="80.00" y2="606.60" stroke="#000" stroke-width="2"/>
<text transform="translate(69.3 611.6) scale(1 1.1)" font-family="Liberation Sans" font-size="13.7" text-anchor="end" fill="#000">0.4</text>
<line x1="71.40" y1="545.90" x2="80.00" y2="545.90" stroke="#000" stroke-width="2"/>
<text transform="translate(69.3 550.9) scale(1 1.1)" font-family="Liberation Sans" font-size="13.7" text-anchor="end" fill="#000">0.6</text>
<text x="40.2" y="638.4" font-family="Liberation Sans" font-size="14" font-weight="normal" font-style="normal" text-anchor="middle" fill="#000" transform="rotate(-90 40.2 638.4)">Amplitude (mmHg)</text>
<rect x="117.30" y="648.36" width="31.30" height="79.64" fill="#0a32ff" stroke="#000" stroke-width="2"/>
<rect x="166.60" y="699.20" width="31.60" height="28.80" fill="#fff" stroke="#000" stroke-width="2"/>
<line x1="99.40" y1="728.00" x2="216.40" y2="728.00" stroke="#000" stroke-width="2"/>
<line x1="133.10" y1="540.50" x2="182.50" y2="540.50" stroke="#000" stroke-width="2.1"/>
<line x1="156.20" y1="528.20" x2="156.20" y2="537.40" stroke="#000" stroke-width="1.9" stroke-linecap="round"/>
<line x1="152.22" y1="530.50" x2="160.18" y2="535.10" stroke="#000" stroke-width="1.9" stroke-linecap="round"/>
<line x1="160.18" y1="530.50" x2="152.22" y2="535.10" stroke="#000" stroke-width="1.9" stroke-linecap="round"/>
<line x1="133.10" y1="564.60" x2="182.50" y2="671.30" stroke="#000" stroke-width="2.2"/>
<line x1="133.10" y1="622.70" x2="182.50" y2="698.00" stroke="#000" stroke-width="2.2"/>
<line x1="133.10" y1="656.20" x2="182.50" y2="688.50" stroke="#000" stroke-width="2.2"/>
<line x1="133.10" y1="666.30" x2="182.50" y2="698.00" stroke="#000" stroke-width="2.2"/>
<line x1="133.10" y1="676.00" x2="182.50" y2="728.30" stroke="#000" stroke-width="2.2"/>
<line x1="133.10" y1="698.50" x2="182.50" y2="703.80" stroke="#000" stroke-width="2.2"/>
<circle cx="133.10" cy="564.60" r="3.0" fill="#22acf0" stroke="#000" stroke-width="1.0"/>
<circle cx="133.10" cy="622.70" r="3.0" fill="#22acf0" stroke="#000" stroke-width="1.0"/>
<circle cx="133.10" cy="656.20" r="3.0" fill="#22acf0" stroke="#000" stroke-width="1.0"/>
<circle cx="133.10" cy="666.30" r="3.0" fill="#22acf0" stroke="#000" stroke-width="1.0"/>
<circle cx="133.10" cy="676.00" r="3.0" fill="#22acf0" stroke="#000" stroke-width="1.0"/>
<circle cx="133.10" cy="698.50" r="3.0" fill="#22acf0" stroke="#000" stroke-width="1.0"/>
<circle cx="182.50" cy="688.50" r="3.0" fill="#ff0a14" stroke="#000" stroke-width="1.0"/>
<circle cx="182.50" cy="671.30" r="3.0" fill="#ff0a14" stroke="#000" stroke-width="1.0"/>
<circle cx="182.50" cy="728.30" r="3.0" fill="#ff0a14" stroke="#000" stroke-width="1.0"/>
<circle cx="182.50" cy="698.00" r="3.0" fill="#ff0a14" stroke="#000" stroke-width="1.0"/>
<circle cx="182.50" cy="703.80" r="3.0" fill="#ff0a14" stroke="#000" stroke-width="1.0"/>
<line x1="160.20" y1="568.80" x2="181.90" y2="568.80" stroke="#000" stroke-width="2"/>
<circle cx="171.00" cy="568.80" r="3.0" fill="#22acf0" stroke="#000" stroke-width="1.0"/>
<line x1="160.20" y1="592.50" x2="181.90" y2="592.50" stroke="#000" stroke-width="2"/>
<circle cx="171.00" cy="592.50" r="3.0" fill="#ff0a14" stroke="#000" stroke-width="1.0"/>
<text x="194.5" y="573.8" font-family="Liberation Sans" font-size="14" font-weight="normal" font-style="normal" text-anchor="start" fill="#000">Baseline</text>
<text x="194.5" y="597.4" font-family="Liberation Sans" font-size="14" font-weight="normal" font-style="normal" text-anchor="start" fill="#000">Indomethacin</text>
<text x="194.5" y="614.9" font-family="Liberation Sans" font-size="14" font-weight="normal" font-style="normal" text-anchor="start" fill="#000">(n=6)</text>
<text x="330.3" y="527.4" font-family="Liberation Serif" font-size="27.6" font-weight="bold" font-style="normal" text-anchor="start" fill="#000">C</text>
<line x1="384.60" y1="543.45" x2="384.60" y2="727.30" stroke="#000" stroke-width="2"/>
<line x1="376.20" y1="726.30" x2="384.60" y2="726.30" stroke="#000" stroke-width="2"/>
<text transform="translate(374.6 731.3) scale(1 1.1)" font-family="Liberation Sans" font-size="13.7" text-anchor="end" fill="#000">0</text>
<line x1="376.20" y1="665.65" x2="384.60" y2="665.65" stroke="#000" stroke-width="2"/>
<text transform="translate(374.6 670.65) scale(1 1.1)" font-family="Liberation Sans" font-size="13.7" text-anchor="end" fill="#000">5</text>
<line x1="376.20" y1="605.00" x2="384.60" y2="605.00" stroke="#000" stroke-width="2"/>
<text transform="translate(374.6 610.0) scale(1 1.1)" font-family="Liberation Sans" font-size="13.7" text-anchor="end" fill="#000">10</text>
<line x1="376.20" y1="544.35" x2="384.60" y2="544.35" stroke="#000" stroke-width="2"/>
<text transform="translate(374.6 549.3499999999999) scale(1 1.1)" font-family="Liberation Sans" font-size="13.7" text-anchor="end" fill="#000">15</text>
<text x="349.5" y="634.6" font-family="Liberation Sans" font-size="14.15" font-weight="normal" font-style="normal" text-anchor="middle" fill="#000" transform="rotate(-90 349.5 634.6)">Contractions Per Minute</text>
<rect x="422.60" y="656.92" width="30.60" height="69.38" fill="#0a32ff" stroke="#000" stroke-width="2"/>
<rect x="471.90" y="692.58" width="31.50" height="33.72" fill="#fff" stroke="#000" stroke-width="2"/>
<line x1="404.20" y1="726.30" x2="521.00" y2="726.30" stroke="#000" stroke-width="2"/>
<line x1="438.20" y1="581.50" x2="487.10" y2="581.50" stroke="#000" stroke-width="2.1"/>
<line x1="459.90" y1="569.40" x2="459.90" y2="578.60" stroke="#000" stroke-width="1.9" stroke-linecap="round"/>
<line x1="455.92" y1="571.70" x2="463.88" y2="576.30" stroke="#000" stroke-width="1.9" stroke-linecap="round"/>
<line x1="463.88" y1="571.70" x2="455.92" y2="576.30" stroke="#000" stroke-width="1.9" stroke-linecap="round"/>
<line x1="437.70" y1="605.40" x2="487.00" y2="647.30" stroke="#000" stroke-width="2.2"/>
<line x1="437.70" y1="642.50" x2="487.00" y2="690.10" stroke="#000" stroke-width="2.2"/>
<line x1="437.70" y1="652.40" x2="487.00" y2="667.80" stroke="#000" stroke-width="2.2"/>
<line x1="437.70" y1="659.30" x2="487.00" y2="727.00" stroke="#000" stroke-width="2.2"/>
<line x1="437.70" y1="675.20" x2="487.00" y2="719.20" stroke="#000" stroke-width="2.2"/>
<line x1="437.70" y1="702.00" x2="487.00" y2="690.10" stroke="#000" stroke-width="2.2"/>
<circle cx="437.70" cy="605.40" r="3.0" fill="#22acf0" stroke="#000" stroke-width="1.0"/>
<circle cx="437.70" cy="642.50" r="3.0" fill="#22acf0" stroke="#000" stroke-width="1.0"/>
<circle cx="437.70" cy="652.40" r="3.0" fill="#22acf0" stroke="#000" stroke-width="1.0"/>
<circle cx="437.70" cy="659.30" r="3.0" fill="#22acf0" stroke="#000" stroke-width="1.0"/>
<circle cx="437.70" cy="675.20" r="3.0" fill="#22acf0" stroke="#000" stroke-width="1.0"/>
<circle cx="437.70" cy="702.00" r="3.0" fill="#22acf0" stroke="#000" stroke-width="1.0"/>
<circle cx="487.00" cy="647.30" r="3.0" fill="#ff0a14" stroke="#000" stroke-width="1.0"/>
<circle cx="487.00" cy="690.10" r="3.0" fill="#ff0a14" stroke="#000" stroke-width="1.0"/>
<circle cx="487.00" cy="667.80" r="3.0" fill="#ff0a14" stroke="#000" stroke-width="1.0"/>
<circle cx="487.00" cy="727.00" r="3.0" fill="#ff0a14" stroke="#000" stroke-width="1.0"/>
<circle cx="487.00" cy="719.20" r="3.0" fill="#ff0a14" stroke="#000" stroke-width="1.0"/>
<circle cx="487.00" cy="690.10" r="3.0" fill="#ff0a14" stroke="#000" stroke-width="1.0"/>
<circle cx="487.00" cy="696.80" r="3.0" fill="#ff0a14" stroke="#000" stroke-width="1.0"/>
<text x="555.8" y="527.2" font-family="Liberation Serif" font-size="27.2" font-weight="bold" font-style="normal" text-anchor="start" fill="#000">D</text>
<line x1="609.80" y1="543.00" x2="609.80" y2="728.10" stroke="#000" stroke-width="2"/>
<line x1="601.30" y1="727.10" x2="609.80" y2="727.10" stroke="#000" stroke-width="2"/>
<text transform="translate(599.6 732.1) scale(1 1.1)" font-family="Liberation Sans" font-size="13.7" text-anchor="end" fill="#000">0</text>
<line x1="601.30" y1="690.46" x2="609.80" y2="690.46" stroke="#000" stroke-width="2"/>
<text transform="translate(599.6 695.46) scale(1 1.1)" font-family="Liberation Sans" font-size="13.7" text-anchor="end" fill="#000">2</text>
<line x1="601.30" y1="653.82" x2="609.80" y2="653.82" stroke="#000" stroke-width="2"/>
<text transform="translate(599.6 658.82) scale(1 1.1)" font-family="Liberation Sans" font-size="13.7" text-anchor="end" fill="#000">4</text>
<line x1="601.30" y1="617.18" x2="609.80" y2="617.18" stroke="#000" stroke-width="2"/>
<text transform="translate(599.6 622.1800000000001) scale(1 1.1)" font-family="Liberation Sans" font-size="13.7" text-anchor="end" fill="#000">6</text>
<line x1="601.30" y1="580.54" x2="609.80" y2="580.54" stroke="#000" stroke-width="2"/>
<text transform="translate(599.6 585.54) scale(1 1.1)" font-family="Liberation Sans" font-size="13.7" text-anchor="end" fill="#000">8</text>
<line x1="601.30" y1="543.90" x2="609.80" y2="543.90" stroke="#000" stroke-width="2"/>
<text transform="translate(599.6 548.9000000000001) scale(1 1.1)" font-family="Liberation Sans" font-size="13.7" text-anchor="end" fill="#000">10</text>
<text x="574.5" y="635.9" font-family="Liberation Sans" font-size="14.2" font-weight="normal" font-style="normal" text-anchor="middle" fill="#000" transform="rotate(-90 574.5 635.9)" xml:space="preserve">Baseline  Pressure  (mmHg)</text>
<rect x="644.50" y="655.65" width="24.50" height="71.45" fill="#0a32ff" stroke="#000" stroke-width="2"/>
<rect x="684.60" y="677.27" width="24.00" height="49.83" fill="#fff" stroke="#000" stroke-width="2"/>
<rect x="724.30" y="686.80" width="23.80" height="40.30" fill="#3c40ff" stroke="#000" stroke-width="2"/>
<line x1="629.00" y1="727.10" x2="763.30" y2="727.10" stroke="#000" stroke-width="2"/>
<line x1="656.70" y1="541.00" x2="735.90" y2="541.00" stroke="#000" stroke-width="2"/>
<line x1="656.70" y1="558.50" x2="691.80" y2="558.50" stroke="#000" stroke-width="2"/>
<line x1="700.20" y1="558.50" x2="735.90" y2="558.50" stroke="#000" stroke-width="2"/>
<text x="693.5" y="538.4" font-family="Liberation Sans" font-size="11.3" font-weight="normal" font-style="normal" text-anchor="middle" fill="#000">ns</text>
<text x="671.3" y="554.5" font-family="Liberation Sans" font-size="11.3" font-weight="normal" font-style="normal" text-anchor="middle" fill="#000">ns</text>
<text x="715.0" y="554.5" font-family="Liberation Sans" font-size="11.3" font-weight="normal" font-style="normal" text-anchor="middle" fill="#000">ns</text>
<path d="M656.70,570.10 L696.40,627.60 L735.90,644.80" fill="none" stroke="#000" stroke-width="2.2" stroke-linejoin="round" stroke-linecap="round"/>
<path d="M656.70,646.10 L696.40,661.20 L735.90,679.30" fill="none" stroke="#000" stroke-width="2.2" stroke-linejoin="round" stroke-linecap="round"/>
<path d="M656.70,650.50 L696.40,666.80 L735.90,675.00" fill="none" stroke="#000" stroke-width="2.2" stroke-linejoin="round" stroke-linecap="round"/>
<path d="M656.70,657.50 L696.40,680.90 L735.90,687.50" fill="none" stroke="#000" stroke-width="2.2" stroke-linejoin="round" stroke-linecap="round"/>
<path d="M656.70,691.80 L696.40,701.40 L735.90,704.60" fill="none" stroke="#000" stroke-width="2.2" stroke-linejoin="round" stroke-linecap="round"/>
<path d="M656.70,713.00 L696.40,720.40 L735.90,722.10" fill="none" stroke="#000" stroke-width="2.2" stroke-linejoin="round" stroke-linecap="round"/>
<circle cx="656.70" cy="570.10" r="3.0" fill="#22acf0" stroke="#000" stroke-width="1.0"/>
<circle cx="696.40" cy="627.60" r="3.0" fill="#ff0a14" stroke="#000" stroke-width="1.0"/>
<circle cx="656.70" cy="646.10" r="3.0" fill="#22acf0" stroke="#000" stroke-width="1.0"/>
<circle cx="696.40" cy="661.20" r="3.0" fill="#ff0a14" stroke="#000" stroke-width="1.0"/>
<circle cx="656.70" cy="650.50" r="3.0" fill="#22acf0" stroke="#000" stroke-width="1.0"/>
<circle cx="696.40" cy="666.80" r="3.0" fill="#ff0a14" stroke="#000" stroke-width="1.0"/>
<circle cx="656.70" cy="657.50" r="3.0" fill="#22acf0" stroke="#000" stroke-width="1.0"/>
<circle cx="696.40" cy="680.90" r="3.0" fill="#ff0a14" stroke="#000" stroke-width="1.0"/>
<circle cx="656.70" cy="691.80" r="3.0" fill="#22acf0" stroke="#000" stroke-width="1.0"/>
<circle cx="696.40" cy="701.40" r="3.0" fill="#ff0a14" stroke="#000" stroke-width="1.0"/>
<circle cx="656.70" cy="713.00" r="3.0" fill="#22acf0" stroke="#000" stroke-width="1.0"/>
<circle cx="696.40" cy="720.40" r="3.0" fill="#ff0a14" stroke="#000" stroke-width="1.0"/>
<circle cx="735.90" cy="644.80" r="3.0" fill="#1418ff" stroke="#2d3d3f" stroke-width="1.9"/>
<circle cx="735.90" cy="679.30" r="3.0" fill="#1418ff" stroke="#2d3d3f" stroke-width="1.9"/>
<circle cx="735.90" cy="675.00" r="3.0" fill="#1418ff" stroke="#2d3d3f" stroke-width="1.9"/>
<circle cx="735.90" cy="687.50" r="3.0" fill="#1418ff" stroke="#2d3d3f" stroke-width="1.9"/>
<circle cx="735.90" cy="704.60" r="3.0" fill="#1418ff" stroke="#2d3d3f" stroke-width="1.9"/>
<circle cx="735.90" cy="722.10" r="3.0" fill="#1418ff" stroke="#2d3d3f" stroke-width="1.9"/>
<text x="653.4" y="740.6" font-family="Liberation Sans" font-size="11.3" font-weight="normal" font-style="normal" text-anchor="middle" fill="#000">control</text>
<text x="696.4" y="740.6" font-family="Liberation Sans" font-size="11.3" font-weight="normal" font-style="normal" text-anchor="middle" fill="#000">indo</text>
<text x="737.9" y="739.9" font-family="Liberation Sans" font-size="11.3" font-weight="normal" font-style="normal" text-anchor="middle" fill="#000" xml:space="preserve">indo +</text>
<text x="738.2" y="752.8" font-family="Liberation Sans" font-size="11.3" font-weight="normal" font-style="normal" text-anchor="middle" fill="#000">dilt</text>
</svg>
</body></html>
